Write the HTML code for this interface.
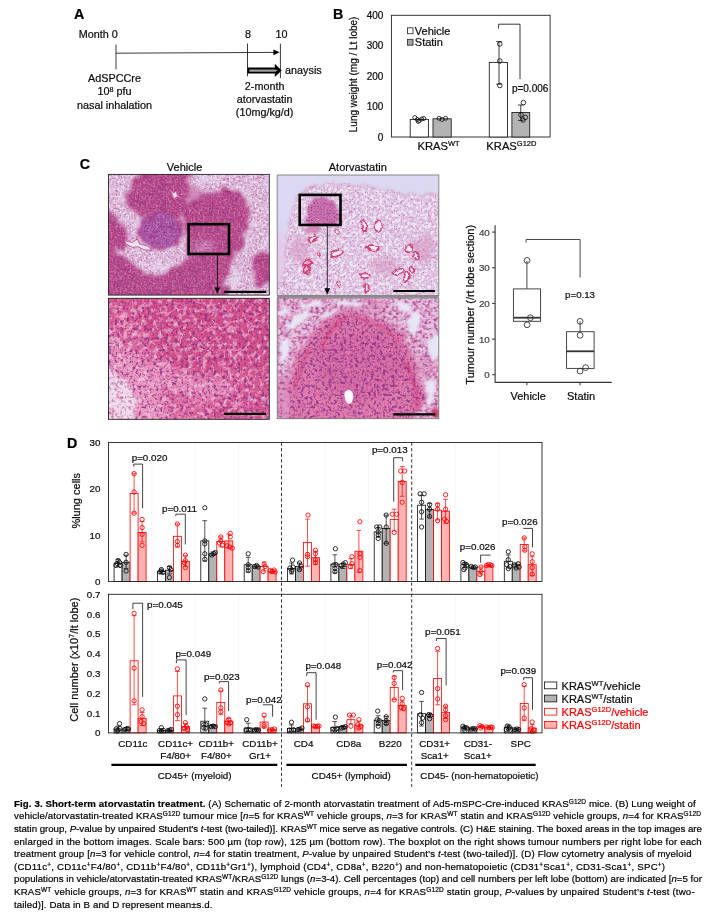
<!DOCTYPE html>
<html lang="en"><head><meta charset="utf-8"><title>Fig. 3. Short-term atorvastatin treatment</title>
<style>html,body{margin:0;padding:0;background:#fff}body{width:707px;height:917px;position:relative;overflow:hidden;font-family:"Liberation Sans",Arial,Helvetica,sans-serif}svg{position:absolute;left:0;top:0}svg text{font-family:"Liberation Sans",Arial,Helvetica,sans-serif;stroke-width:0.22px}

.cap{position:absolute;left:14px;white-space:nowrap;font-size:9.7px;line-height:12px;color:#000;height:12px;-webkit-text-stroke:0.2px #000}
.cap b{font-weight:bold;color:#000}
.cap sup{font-size:6.5px;vertical-align:baseline;position:relative;top:-3.1px;line-height:0}
.cap i{font-style:italic}

</style></head><body>
<svg width="707" height="917" viewBox="0 0 707 917">
<rect width="707" height="917" fill="#fff"/>
<g id="pA">
<text x="73.9" y="19.4" font-size="14.3" text-anchor="start" fill="#000" stroke="#000" font-weight="bold">A</text>
<text x="78.8" y="37.6" font-size="10.8" text-anchor="start" fill="#0d0d0d" stroke="#0d0d0d">Month 0</text>
<text x="248.1" y="37.6" font-size="10.8" text-anchor="middle" fill="#0d0d0d" stroke="#0d0d0d">8</text>
<text x="281.6" y="37.6" font-size="10.8" text-anchor="middle" fill="#0d0d0d" stroke="#0d0d0d">10</text>
<path d="M116 44.5V69.3 M247.5 43.6V76.2 M280.4 43.6V78.2 M116 53.2L274 52.4" stroke="#222" stroke-width="0.9" fill="none"/>
<path d="M273.4 49.6L279.6 52.3L273.4 55.2Z" fill="#000"/>
<path d="M247.5 67.5H274.8V63.7L281.7 70.4L274.8 77.1V73.6H247.5Z" fill="#000"/><path d="M249.3 69.4H275.4L277.6 70.55L275.4 71.8H249.3Z" fill="#9c9c9c"/>
<text x="285.1" y="74.0" font-size="10.8" text-anchor="start" fill="#0d0d0d" stroke="#0d0d0d">anaysis</text>
<text x="114.5" y="82.0" font-size="10.8" text-anchor="middle" fill="#0d0d0d" stroke="#0d0d0d">AdSPCCre</text>
<text x="114.5" y="95.4" font-size="10.8" text-anchor="middle" fill="#0d0d0d" stroke="#0d0d0d">10<tspan dy="-3.9" font-size="7.3">8</tspan><tspan dy="3.9" font-size="10.8">&#8203;</tspan> pfu</text>
<text x="114.5" y="108.8" font-size="10.8" text-anchor="middle" fill="#0d0d0d" stroke="#0d0d0d">nasal inhalation</text>
<text x="264.6" y="90.2" font-size="10.8" text-anchor="middle" fill="#0d0d0d" stroke="#0d0d0d">2-month</text>
<text x="264.6" y="103.1" font-size="10.8" text-anchor="middle" fill="#0d0d0d" stroke="#0d0d0d">atorvastatin</text>
<text x="264.6" y="116.0" font-size="10.8" text-anchor="middle" fill="#0d0d0d" stroke="#0d0d0d">(10mg/kg/d)</text>
</g>
<g id="pB">
<text x="333.0" y="18.9" font-size="14.3" text-anchor="start" fill="#000" stroke="#000" font-weight="bold">B</text>
<rect x="391.4" y="15.3" width="158.7" height="121.7" fill="none" stroke="#222" stroke-width="0.9"/>
<text x="383.4" y="18.9" font-size="10" text-anchor="end" fill="#0d0d0d" stroke="#0d0d0d">400</text>
<text x="383.4" y="49.3" font-size="10" text-anchor="end" fill="#0d0d0d" stroke="#0d0d0d">300</text>
<text x="383.4" y="79.8" font-size="10" text-anchor="end" fill="#0d0d0d" stroke="#0d0d0d">200</text>
<text x="383.4" y="110.2" font-size="10" text-anchor="end" fill="#0d0d0d" stroke="#0d0d0d">100</text>
<text x="383.4" y="140.6" font-size="10" text-anchor="end" fill="#0d0d0d" stroke="#0d0d0d">0</text>
<text transform="translate(357.4 74.4) rotate(-90)" font-size="10" text-anchor="middle" fill="#0d0d0d" stroke="#0d0d0d">Lung weight (mg / Lt lobe)</text>
<rect x="407.4" y="27.8" width="5.6" height="5.9" fill="#fff" stroke="#222" stroke-width="0.8"/>
<rect x="407.4" y="39.3" width="5.6" height="5.9" fill="#a6a6a6" stroke="#222" stroke-width="0.8"/>
<text x="414.8" y="34.8" font-size="11" text-anchor="start" fill="#0d0d0d" stroke="#0d0d0d">Vehicle</text>
<text x="414.8" y="46.1" font-size="11" text-anchor="start" fill="#0d0d0d" stroke="#0d0d0d">Statin</text>
<rect x="410.2" y="119.4" width="18.2" height="17.6" fill="#fff" stroke="#222" stroke-width="0.9"/>
<rect x="433.0" y="118.8" width="18.2" height="18.2" fill="#b3b3b3" stroke="#222" stroke-width="0.9"/>
<rect x="489.3" y="62.4" width="18.2" height="74.6" fill="#fff" stroke="#222" stroke-width="0.9"/>
<rect x="511.9" y="112.5" width="17.8" height="24.5" fill="#b3b3b3" stroke="#222" stroke-width="0.9"/>
<circle cx="414.8" cy="117.5" r="2.0" fill="none" stroke="#0d0d0d" stroke-width="0.8"/>
<circle cx="417.3" cy="119.5" r="2.0" fill="none" stroke="#0d0d0d" stroke-width="0.8"/>
<circle cx="419.3" cy="120.5" r="2.0" fill="none" stroke="#0d0d0d" stroke-width="0.8"/>
<circle cx="421.8" cy="119.0" r="2.0" fill="none" stroke="#0d0d0d" stroke-width="0.8"/>
<circle cx="423.8" cy="118.5" r="2.0" fill="none" stroke="#0d0d0d" stroke-width="0.8"/>
<circle cx="418.3" cy="121.5" r="2.0" fill="none" stroke="#0d0d0d" stroke-width="0.8"/>
<circle cx="439.1" cy="118.3" r="2.0" fill="none" stroke="#0d0d0d" stroke-width="0.8"/>
<circle cx="442.1" cy="119.5" r="2.0" fill="none" stroke="#0d0d0d" stroke-width="0.8"/>
<circle cx="445.6" cy="118.3" r="2.0" fill="none" stroke="#0d0d0d" stroke-width="0.8"/>
<path d="M499.0 41.6V84.2M496.2 41.6H501.8M496.2 84.2H501.8" stroke="#0d0d0d" stroke-width="0.8" fill="none"/>
<circle cx="499.8" cy="44.0" r="2.3" fill="none" stroke="#0d0d0d" stroke-width="0.8"/>
<circle cx="499.8" cy="61.0" r="2.3" fill="none" stroke="#0d0d0d" stroke-width="0.8"/>
<circle cx="499.8" cy="85.5" r="2.3" fill="none" stroke="#0d0d0d" stroke-width="0.8"/>
<path d="M520.8 105.0V120.4M518.0 105.0H523.6M518.0 120.4H523.6" stroke="#0d0d0d" stroke-width="0.8" fill="none"/>
<circle cx="523.4" cy="102.6" r="2.3" fill="none" stroke="#0d0d0d" stroke-width="0.8"/>
<circle cx="521.0" cy="114.9" r="2.3" fill="none" stroke="#0d0d0d" stroke-width="0.8"/>
<circle cx="525.3" cy="117.4" r="2.3" fill="none" stroke="#0d0d0d" stroke-width="0.8"/>
<circle cx="523.0" cy="120.0" r="2.3" fill="none" stroke="#0d0d0d" stroke-width="0.8"/>
<path d="M498.6 28.7V24.2H520V79.2" stroke="#222" stroke-width="0.9" fill="none"/>
<text x="511.9" y="91.6" font-size="10" text-anchor="start" fill="#0d0d0d" stroke="#0d0d0d">p=0.006</text>
<text x="438.6" y="150.3" font-size="11.2" text-anchor="middle" fill="#0d0d0d" stroke="#0d0d0d">KRAS<tspan dy="-4.0" font-size="7.5">WT</tspan><tspan dy="4.0" font-size="11">&#8203;</tspan></text>
<text x="511.4" y="150.3" font-size="11.2" text-anchor="middle" fill="#0d0d0d" stroke="#0d0d0d">KRAS<tspan dy="-4.0" font-size="7.5">G12D</tspan><tspan dy="4.0" font-size="11">&#8203;</tspan></text>
</g>
<defs>
<filter id="rag" color-interpolation-filters="sRGB" filterUnits="userSpaceOnUse" x="-20" y="-20" width="210" height="170"><feTurbulence type="fractalNoise" baseFrequency="0.09" numOctaves="3" seed="7" result="t"/><feDisplacementMap in="SourceGraphic" in2="t" scale="16" xChannelSelector="R" yChannelSelector="G" result="d"/><feGaussianBlur in="d" stdDeviation="1.7"/></filter>
<filter id="rag2" color-interpolation-filters="sRGB" filterUnits="userSpaceOnUse" x="-20" y="-20" width="210" height="170"><feTurbulence type="fractalNoise" baseFrequency="0.12" numOctaves="3" seed="21" result="t"/><feDisplacementMap in="SourceGraphic" in2="t" scale="10" xChannelSelector="R" yChannelSelector="G" result="d"/><feGaussianBlur in="d" stdDeviation="1.1"/></filter>
<filter id="rag3" color-interpolation-filters="sRGB" filterUnits="userSpaceOnUse" x="-20" y="-20" width="210" height="170"><feTurbulence type="fractalNoise" baseFrequency="0.22" numOctaves="2" seed="5" result="t"/><feDisplacementMap in="SourceGraphic" in2="t" scale="4.5" xChannelSelector="R" yChannelSelector="G" result="d"/><feGaussianBlur in="d" stdDeviation="0.45"/></filter>
<filter id="bl1" color-interpolation-filters="sRGB" filterUnits="userSpaceOnUse" x="-20" y="-20" width="210" height="170"><feGaussianBlur stdDeviation="0.55"/></filter>
<filter id="bl2" color-interpolation-filters="sRGB" filterUnits="userSpaceOnUse" x="-20" y="-20" width="210" height="170"><feGaussianBlur stdDeviation="1.4"/></filter>
<filter id="bl3" color-interpolation-filters="sRGB" filterUnits="userSpaceOnUse" x="-20" y="-20" width="210" height="170"><feGaussianBlur stdDeviation="3"/></filter>
<filter id="spW1" color-interpolation-filters="sRGB" filterUnits="userSpaceOnUse" x="0" y="0" width="170" height="130"><feTurbulence type="fractalNoise" baseFrequency="0.42" numOctaves="2" seed="3"/><feColorMatrix type="matrix" values="0 0 0 0 0.925 0 0 0 0 0.894 0 0 0 0 0.957 5.5 0 0 0 -2.75"/><feGaussianBlur stdDeviation="0.35"/></filter>
<filter id="spD1" color-interpolation-filters="sRGB" filterUnits="userSpaceOnUse" x="0" y="0" width="170" height="130"><feTurbulence type="fractalNoise" baseFrequency="0.7" numOctaves="1" seed="11"/><feColorMatrix type="matrix" values="0 0 0 0 0.549 0 0 0 0 0.165 0 0 0 0 0.471 4.0 0 0 0 -2.05"/><feGaussianBlur stdDeviation="0.3"/></filter>
<filter id="spP1" color-interpolation-filters="sRGB" filterUnits="userSpaceOnUse" x="0" y="0" width="170" height="130"><feTurbulence type="fractalNoise" baseFrequency="0.5" numOctaves="2" seed="5"/><feColorMatrix type="matrix" values="0 0 0 0 0.769 0 0 0 0 0.376 0 0 0 0 0.667 4.0 0 0 0 -2.0"/><feGaussianBlur stdDeviation="0.4"/></filter>
<filter id="spH1" color-interpolation-filters="sRGB" filterUnits="userSpaceOnUse" x="0" y="0" width="170" height="130"><feTurbulence type="fractalNoise" baseFrequency="0.6" numOctaves="1" seed="41"/><feColorMatrix type="matrix" values="0 0 0 0 0.839 0 0 0 0 0.510 0 0 0 0 0.745 4.0 0 0 0 -2.1"/><feGaussianBlur stdDeviation="0.35"/></filter>
<filter id="spG1" color-interpolation-filters="sRGB" filterUnits="userSpaceOnUse" x="0" y="0" width="170" height="130"><feTurbulence type="fractalNoise" baseFrequency="0.12" numOctaves="2" seed="33"/><feColorMatrix type="matrix" values="0 0 0 0 0.588 0 0 0 0 0.196 0 0 0 0 0.490 5.0 0 0 0 -2.6"/><feGaussianBlur stdDeviation="1.2"/></filter>
<filter id="spC1" color-interpolation-filters="sRGB" filterUnits="userSpaceOnUse" x="0" y="0" width="170" height="130"><feTurbulence type="fractalNoise" baseFrequency="0.09" numOctaves="2" seed="51"/><feColorMatrix type="matrix" values="0 0 0 0 0.910 0 0 0 0 0.871 0 0 0 0 0.949 6.0 0 0 0 -3.2"/><feGaussianBlur stdDeviation="1.0"/></filter>
<filter id="spW3" color-interpolation-filters="sRGB" filterUnits="userSpaceOnUse" x="0" y="0" width="170" height="130"><feTurbulence type="fractalNoise" baseFrequency="0.33" numOctaves="1" seed="71"/><feColorMatrix type="matrix" values="0 0 0 0 0.941 0 0 0 0 0.918 0 0 0 0 0.969 7.0 0 0 0 -3.35"/><feGaussianBlur stdDeviation="0.3"/></filter>
<filter id="spN1" color-interpolation-filters="sRGB" filterUnits="userSpaceOnUse" x="0" y="0" width="170" height="130"><feTurbulence type="turbulence" baseFrequency="0.22" numOctaves="2" seed="8"/><feColorMatrix type="matrix" values="0 0 0 0 0.769 0 0 0 0 0.439 0 0 0 0 0.698 -7 0 0 0 1.0"/><feGaussianBlur stdDeviation="0.3"/></filter>
<filter id="spW2" color-interpolation-filters="sRGB" filterUnits="userSpaceOnUse" x="0" y="0" width="170" height="130"><feTurbulence type="fractalNoise" baseFrequency="0.2" numOctaves="2" seed="9"/><feColorMatrix type="matrix" values="0 0 0 0 0.973 0 0 0 0 0.910 0 0 0 0 0.965 6.0 0 0 0 -3.1"/><feGaussianBlur stdDeviation="0.5"/></filter>
<filter id="spD2" color-interpolation-filters="sRGB" filterUnits="userSpaceOnUse" x="0" y="0" width="170" height="130"><feTurbulence type="fractalNoise" baseFrequency="0.33" numOctaves="2" seed="17"/><feColorMatrix type="matrix" values="0 0 0 0 0.541 0 0 0 0 0.188 0 0 0 0 0.518 6.0 0 0 0 -3.2"/><feGaussianBlur stdDeviation="0.4"/></filter>
<filter id="spP2" color-interpolation-filters="sRGB" filterUnits="userSpaceOnUse" x="0" y="0" width="170" height="130"><feTurbulence type="fractalNoise" baseFrequency="0.16" numOctaves="2" seed="29"/><feColorMatrix type="matrix" values="0 0 0 0 0.925 0 0 0 0 0.471 0 0 0 0 0.686 5.0 0 0 0 -2.5"/><feGaussianBlur stdDeviation="0.6"/></filter>
<filter id="spL2" color-interpolation-filters="sRGB" filterUnits="userSpaceOnUse" x="0" y="0" width="170" height="130"><feTurbulence type="fractalNoise" baseFrequency="0.3" numOctaves="2" seed="13"/><feColorMatrix type="matrix" values="0 0 0 0 0.839 0 0 0 0 0.439 0 0 0 0 0.667 4.5 0 0 0 -2.2"/><feGaussianBlur stdDeviation="0.5"/></filter>
<filter id="spD3" color-interpolation-filters="sRGB" filterUnits="userSpaceOnUse" x="0" y="0" width="170" height="130"><feTurbulence type="fractalNoise" baseFrequency="0.6" numOctaves="1" seed="23"/><feColorMatrix type="matrix" values="0 0 0 0 0.549 0 0 0 0 0.204 0 0 0 0 0.541 5.0 0 0 0 -2.75"/><feGaussianBlur stdDeviation="0.3"/></filter>
<filter id="spK2" color-interpolation-filters="sRGB" filterUnits="userSpaceOnUse" x="0" y="0" width="170" height="130"><feTurbulence type="turbulence" baseFrequency="0.085" numOctaves="2" seed="61"/><feColorMatrix type="matrix" values="0 0 0 0 0.965 0 0 0 0 0.706 0 0 0 0 0.831 -9 0 0 0 1.0"/><feGaussianBlur stdDeviation="0.35"/></filter>
<filter id="spD4" color-interpolation-filters="sRGB" filterUnits="userSpaceOnUse" x="0" y="0" width="170" height="130"><feTurbulence type="fractalNoise" baseFrequency="0.38" numOctaves="2" seed="83"/><feColorMatrix type="matrix" values="0 0 0 0 0.518 0 0 0 0 0.196 0 0 0 0 0.541 6.0 0 0 0 -3.3"/><feGaussianBlur stdDeviation="0.4"/></filter>
<filter id="spN2" color-interpolation-filters="sRGB" filterUnits="userSpaceOnUse" x="0" y="0" width="170" height="130"><feTurbulence type="turbulence" baseFrequency="0.1" numOctaves="2" seed="19"/><feColorMatrix type="matrix" values="0 0 0 0 0.839 0 0 0 0 0.392 0 0 0 0 0.627 -6 0 0 0 1.0"/><feGaussianBlur stdDeviation="0.4"/></filter>
</defs>
<g id="pC">
<text x="79.8" y="169.3" font-size="14.3" text-anchor="start" fill="#000" stroke="#000" font-weight="bold">C</text>
<text x="184.6" y="171.3" font-size="11" text-anchor="middle" fill="#0d0d0d" stroke="#0d0d0d">Vehicle</text>
<text x="357.8" y="171.0" font-size="11" text-anchor="middle" fill="#0d0d0d" stroke="#0d0d0d">Atorvastatin</text>
<svg x="108.5" y="174.4" width="160.8" height="120.7" viewBox="0 0 162 122" preserveAspectRatio="none">
<rect width="162" height="122" fill="#dab6d6"/>
<mask id="m1l"><rect width="162" height="122" fill="#fff"/><g filter="url(#rag)" fill="#000"><path d="M40.1 -6.9C48.9 -9.7 72.4 -10.3 79.1 -6.9C85.7 -3.4 80.3 7.3 80.2 13.7C80.1 20.2 80.3 27.3 78.4 32.1C76.5 36.9 73.0 41.4 68.7 42.4C64.5 43.3 58.4 37.9 52.7 37.8C47.0 37.7 39.5 42.5 34.4 41.7C29.2 40.9 24.4 36.5 21.8 33.2C19.2 29.9 18.0 25.6 18.8 21.8C19.6 17.9 22.8 15.1 26.4 10.3C29.9 5.5 31.3 -4.0 40.1 -6.9Z"/><path d="M77.9 32.1C80.3 26.4 86.7 25.3 91.7 22.9C96.6 20.5 101.4 18.6 107.7 17.9C114.0 17.2 124.4 17.1 129.5 18.8C134.6 20.5 136.6 23.4 138.4 28.0C140.2 32.5 140.5 39.6 140.2 45.8C139.9 52.1 138.4 59.8 136.6 65.3C134.8 70.8 131.8 74.5 129.5 79.1C127.1 83.6 124.7 88.0 122.6 92.8C120.5 97.6 118.4 101.4 116.9 107.7C115.3 114.0 126.6 126.8 113.4 130.6C100.3 134.4 49.1 134.4 37.8 130.6C26.5 126.8 42.1 112.7 45.8 107.7C49.5 102.7 55.8 103.5 60.0 100.8C64.3 98.2 68.1 94.9 71.5 91.7C74.9 88.4 79.2 87.1 80.2 81.3C81.2 75.6 77.8 65.5 77.5 57.3C77.1 49.1 75.5 37.8 77.9 32.1Z"/><path d="M-6.9 76.8C-4.2 68.4 4.2 77.9 9.2 80.2C14.1 82.5 18.3 87.1 22.9 90.5C27.5 94.0 32.3 98.0 36.7 100.8C41.1 103.7 47.5 102.7 49.3 107.7C51.0 112.7 56.3 126.8 47.0 130.6C37.6 134.4 2.1 139.6 -6.9 130.6C-15.8 121.6 -9.5 85.2 -6.9 76.8Z"/><path d="M-6.9 42.4C-4.0 36.9 6.3 43.3 10.3 45.8C14.4 48.3 16.5 53.5 17.4 57.3C18.4 61.1 17.8 65.5 16.0 68.7C14.3 72.0 10.7 75.0 6.9 76.8C3.1 78.5 -4.6 84.8 -6.9 79.1C-9.2 73.3 -9.7 47.9 -6.9 42.4Z"/><ellipse cx="156.3" cy="95.1" rx="11.0" ry="15.6"/><ellipse cx="52.2" cy="56.8" rx="21.1" ry="18.3"/></g></mask>
<mask id="m1d"><rect width="162" height="122" fill="#000"/><g filter="url(#rag)" fill="#fff"><path d="M40.1 -6.9C48.9 -9.7 72.4 -10.3 79.1 -6.9C85.7 -3.4 80.3 7.3 80.2 13.7C80.1 20.2 80.3 27.3 78.4 32.1C76.5 36.9 73.0 41.4 68.7 42.4C64.5 43.3 58.4 37.9 52.7 37.8C47.0 37.7 39.5 42.5 34.4 41.7C29.2 40.9 24.4 36.5 21.8 33.2C19.2 29.9 18.0 25.6 18.8 21.8C19.6 17.9 22.8 15.1 26.4 10.3C29.9 5.5 31.3 -4.0 40.1 -6.9Z"/><path d="M77.9 32.1C80.3 26.4 86.7 25.3 91.7 22.9C96.6 20.5 101.4 18.6 107.7 17.9C114.0 17.2 124.4 17.1 129.5 18.8C134.6 20.5 136.6 23.4 138.4 28.0C140.2 32.5 140.5 39.6 140.2 45.8C139.9 52.1 138.4 59.8 136.6 65.3C134.8 70.8 131.8 74.5 129.5 79.1C127.1 83.6 124.7 88.0 122.6 92.8C120.5 97.6 118.4 101.4 116.9 107.7C115.3 114.0 126.6 126.8 113.4 130.6C100.3 134.4 49.1 134.4 37.8 130.6C26.5 126.8 42.1 112.7 45.8 107.7C49.5 102.7 55.8 103.5 60.0 100.8C64.3 98.2 68.1 94.9 71.5 91.7C74.9 88.4 79.2 87.1 80.2 81.3C81.2 75.6 77.8 65.5 77.5 57.3C77.1 49.1 75.5 37.8 77.9 32.1Z"/><path d="M-6.9 76.8C-4.2 68.4 4.2 77.9 9.2 80.2C14.1 82.5 18.3 87.1 22.9 90.5C27.5 94.0 32.3 98.0 36.7 100.8C41.1 103.7 47.5 102.7 49.3 107.7C51.0 112.7 56.3 126.8 47.0 130.6C37.6 134.4 2.1 139.6 -6.9 130.6C-15.8 121.6 -9.5 85.2 -6.9 76.8Z"/><path d="M-6.9 42.4C-4.0 36.9 6.3 43.3 10.3 45.8C14.4 48.3 16.5 53.5 17.4 57.3C18.4 61.1 17.8 65.5 16.0 68.7C14.3 72.0 10.7 75.0 6.9 76.8C3.1 78.5 -4.6 84.8 -6.9 79.1C-9.2 73.3 -9.7 47.9 -6.9 42.4Z"/><ellipse cx="156.3" cy="95.1" rx="11.0" ry="15.6"/><ellipse cx="52.2" cy="56.8" rx="21.1" ry="18.3"/></g></mask>
<g mask="url(#m1l)">
<rect width="162" height="122" filter="url(#spP1)" opacity="0.85"/>
<rect width="162" height="122" filter="url(#spW1)" opacity="0.95"/>
<rect width="162" height="122" filter="url(#spC1)" opacity="0.6"/>
</g>
<g filter="url(#bl3)" fill="#c874a8" opacity="0.75"><path d="M40.1 -6.9C48.9 -9.7 72.4 -10.3 79.1 -6.9C85.7 -3.4 80.3 7.3 80.2 13.7C80.1 20.2 80.3 27.3 78.4 32.1C76.5 36.9 73.0 41.4 68.7 42.4C64.5 43.3 58.4 37.9 52.7 37.8C47.0 37.7 39.5 42.5 34.4 41.7C29.2 40.9 24.4 36.5 21.8 33.2C19.2 29.9 18.0 25.6 18.8 21.8C19.6 17.9 22.8 15.1 26.4 10.3C29.9 5.5 31.3 -4.0 40.1 -6.9Z"/><path d="M77.9 32.1C80.3 26.4 86.7 25.3 91.7 22.9C96.6 20.5 101.4 18.6 107.7 17.9C114.0 17.2 124.4 17.1 129.5 18.8C134.6 20.5 136.6 23.4 138.4 28.0C140.2 32.5 140.5 39.6 140.2 45.8C139.9 52.1 138.4 59.8 136.6 65.3C134.8 70.8 131.8 74.5 129.5 79.1C127.1 83.6 124.7 88.0 122.6 92.8C120.5 97.6 118.4 101.4 116.9 107.7C115.3 114.0 126.6 126.8 113.4 130.6C100.3 134.4 49.1 134.4 37.8 130.6C26.5 126.8 42.1 112.7 45.8 107.7C49.5 102.7 55.8 103.5 60.0 100.8C64.3 98.2 68.1 94.9 71.5 91.7C74.9 88.4 79.2 87.1 80.2 81.3C81.2 75.6 77.8 65.5 77.5 57.3C77.1 49.1 75.5 37.8 77.9 32.1Z"/><path d="M-6.9 76.8C-4.2 68.4 4.2 77.9 9.2 80.2C14.1 82.5 18.3 87.1 22.9 90.5C27.5 94.0 32.3 98.0 36.7 100.8C41.1 103.7 47.5 102.7 49.3 107.7C51.0 112.7 56.3 126.8 47.0 130.6C37.6 134.4 2.1 139.6 -6.9 130.6C-15.8 121.6 -9.5 85.2 -6.9 76.8Z"/><path d="M-6.9 42.4C-4.0 36.9 6.3 43.3 10.3 45.8C14.4 48.3 16.5 53.5 17.4 57.3C18.4 61.1 17.8 65.5 16.0 68.7C14.3 72.0 10.7 75.0 6.9 76.8C3.1 78.5 -4.6 84.8 -6.9 79.1C-9.2 73.3 -9.7 47.9 -6.9 42.4Z"/><ellipse cx="156.3" cy="95.1" rx="11.0" ry="15.6"/><ellipse cx="52.2" cy="56.8" rx="21.1" ry="18.3"/><ellipse cx="82.5" cy="21.8" rx="12.6" ry="10.3"/></g>
<g filter="url(#rag)" fill="#b84787"><path d="M40.1 -6.9C48.9 -9.7 72.4 -10.3 79.1 -6.9C85.7 -3.4 80.3 7.3 80.2 13.7C80.1 20.2 80.3 27.3 78.4 32.1C76.5 36.9 73.0 41.4 68.7 42.4C64.5 43.3 58.4 37.9 52.7 37.8C47.0 37.7 39.5 42.5 34.4 41.7C29.2 40.9 24.4 36.5 21.8 33.2C19.2 29.9 18.0 25.6 18.8 21.8C19.6 17.9 22.8 15.1 26.4 10.3C29.9 5.5 31.3 -4.0 40.1 -6.9Z"/><path d="M77.9 32.1C80.3 26.4 86.7 25.3 91.7 22.9C96.6 20.5 101.4 18.6 107.7 17.9C114.0 17.2 124.4 17.1 129.5 18.8C134.6 20.5 136.6 23.4 138.4 28.0C140.2 32.5 140.5 39.6 140.2 45.8C139.9 52.1 138.4 59.8 136.6 65.3C134.8 70.8 131.8 74.5 129.5 79.1C127.1 83.6 124.7 88.0 122.6 92.8C120.5 97.6 118.4 101.4 116.9 107.7C115.3 114.0 126.6 126.8 113.4 130.6C100.3 134.4 49.1 134.4 37.8 130.6C26.5 126.8 42.1 112.7 45.8 107.7C49.5 102.7 55.8 103.5 60.0 100.8C64.3 98.2 68.1 94.9 71.5 91.7C74.9 88.4 79.2 87.1 80.2 81.3C81.2 75.6 77.8 65.5 77.5 57.3C77.1 49.1 75.5 37.8 77.9 32.1Z"/><path d="M-6.9 76.8C-4.2 68.4 4.2 77.9 9.2 80.2C14.1 82.5 18.3 87.1 22.9 90.5C27.5 94.0 32.3 98.0 36.7 100.8C41.1 103.7 47.5 102.7 49.3 107.7C51.0 112.7 56.3 126.8 47.0 130.6C37.6 134.4 2.1 139.6 -6.9 130.6C-15.8 121.6 -9.5 85.2 -6.9 76.8Z"/><path d="M-6.9 42.4C-4.0 36.9 6.3 43.3 10.3 45.8C14.4 48.3 16.5 53.5 17.4 57.3C18.4 61.1 17.8 65.5 16.0 68.7C14.3 72.0 10.7 75.0 6.9 76.8C3.1 78.5 -4.6 84.8 -6.9 79.1C-9.2 73.3 -9.7 47.9 -6.9 42.4Z"/><ellipse cx="156.3" cy="95.1" rx="11.0" ry="15.6"/><ellipse cx="52.2" cy="56.8" rx="21.1" ry="18.3"/></g>
<g filter="url(#rag2)"><ellipse cx="52.2" cy="56.8" rx="20.6" ry="17.9" fill="#a653a4"/></g>
<g filter="url(#bl3)"><ellipse cx="94.0" cy="72.9" rx="13.3" ry="6.0" fill="#d597c4" opacity="0.8"/></g>
<g mask="url(#m1d)">
<rect width="162" height="122" filter="url(#spH1)" opacity="0.7"/>
<rect width="162" height="122" filter="url(#spD1)" opacity="0.75"/>
<rect width="162" height="122" filter="url(#spG1)" opacity="0.5"/>
<rect width="162" height="122" filter="url(#spW1)" opacity="0.22"/>
</g>
<g filter="url(#bl1)" fill="#ece2f2" stroke="#bf4a82" stroke-width="0.9">
<path d="M16.0 66.9l8 2l5 -3.6l2.4 5l8 2l4.4 4.6l-8.4 -0.8l-6 -3.2l-5 1l-7 -3.6z"/>
<path d="M62.3 16.5l3.4 2.4l2.6 -1.8l0.8 3.6l3.2 2.6l-4.2 -0.8l-1.6 2.6l-1.8 -3.8z" stroke-width="0.8" stroke="#c9609c"/>
</g>
</svg>
<svg x="277.2" y="175.0" width="161.6" height="120.5" viewBox="0 0 162 122" preserveAspectRatio="none">
<rect width="162" height="122" fill="#dcd8f1"/>
<g filter="url(#bl3)"><ellipse cx="0" cy="100" rx="9" ry="45" fill="#e6c6ea" opacity="0.9"/></g>
<mask id="m2l"><rect width="162" height="122" fill="#000"/><g filter="url(#rag2)"><path d="M4.1 128.3C-23.2 124.1 4.9 111.1 5.5 103.1C6.1 95.1 7.0 87.8 7.8 80.2C8.6 72.6 9.3 64.5 10.3 57.3C11.3 50.1 12.0 42.9 13.7 37.1C15.5 31.3 17.6 26.7 21.1 22.5C24.5 18.3 28.3 14.1 34.4 11.9C40.4 9.7 47.7 9.2 57.3 9.2C66.8 9.2 81.3 10.6 91.7 11.9C102.0 13.2 110.7 15.4 119.2 17.0C127.6 18.6 133.7 20.1 142.1 21.5C150.5 23.0 165.0 7.9 169.6 25.7C174.1 43.5 197.1 111.2 169.6 128.3C142.0 145.4 31.5 132.5 4.1 128.3Z" fill="#fff"/></g></mask>
<g filter="url(#rag2)"><path d="M4.1 128.3C-23.2 124.1 4.9 111.1 5.5 103.1C6.1 95.1 7.0 87.8 7.8 80.2C8.6 72.6 9.3 64.5 10.3 57.3C11.3 50.1 12.0 42.9 13.7 37.1C15.5 31.3 17.6 26.7 21.1 22.5C24.5 18.3 28.3 14.1 34.4 11.9C40.4 9.7 47.7 9.2 57.3 9.2C66.8 9.2 81.3 10.6 91.7 11.9C102.0 13.2 110.7 15.4 119.2 17.0C127.6 18.6 133.7 20.1 142.1 21.5C150.5 23.0 165.0 7.9 169.6 25.7C174.1 43.5 197.1 111.2 169.6 128.3C142.0 145.4 31.5 132.5 4.1 128.3Z" fill="#e2cce6"/></g>
<g mask="url(#m2l)">
<rect width="162" height="122" filter="url(#spN1)" opacity="0.8"/>
<rect width="162" height="122" filter="url(#spP1)" opacity="0.3"/>
<rect width="162" height="122" filter="url(#spW3)" opacity="0.95"/>
<g filter="url(#rag2)"><path d="M4.1 128.3C-23.2 124.1 4.9 111.1 5.5 103.1C6.1 95.1 7.0 87.8 7.8 80.2C8.6 72.6 9.3 64.5 10.3 57.3C11.3 50.1 12.0 42.9 13.7 37.1C15.5 31.3 17.6 26.7 21.1 22.5C24.5 18.3 28.3 14.1 34.4 11.9C40.4 9.7 47.7 9.2 57.3 9.2C66.8 9.2 81.3 10.6 91.7 11.9C102.0 13.2 110.7 15.4 119.2 17.0C127.6 18.6 133.7 20.1 142.1 21.5C150.5 23.0 165.0 7.9 169.6 25.7C174.1 43.5 197.1 111.2 169.6 128.3C142.0 145.4 31.5 132.5 4.1 128.3Z" fill="none" stroke="#cf8fbd" stroke-width="1.6" opacity="0.7"/></g>
<g filter="url(#rag2)"><path d="M27.0 44.9C27.7 41.7 29.3 33.9 31.6 30.2C34.0 26.6 37.5 24.0 41.2 22.9C45.0 21.8 50.9 21.9 54.1 23.8C57.2 25.7 58.7 30.2 60.0 34.4C61.3 38.6 64.6 46.3 61.9 49.0C59.1 51.8 49.3 50.8 43.5 50.9C37.8 50.9 30.2 50.5 27.5 49.5C24.7 48.5 26.4 48.1 27.0 44.9Z" fill="#c873ad"/><ellipse cx="36.7" cy="55.0" rx="8.2" ry="5.0" fill="#d48fbd"/></g>
<g filter="url(#bl3)" fill="#d590bd" opacity="0.5"><ellipse cx="146.6" cy="75.6" rx="12" ry="14"/><ellipse cx="107.7" cy="91.7" rx="14" ry="9"/><ellipse cx="22.9" cy="75.6" rx="10" ry="14"/></g>
<rect width="162" height="122" filter="url(#spD1)" opacity="0.2"/>
<mask id="m2t"><rect width="162" height="122" fill="#000"/><g filter="url(#rag2)"><path d="M27.0 44.9C27.7 41.7 29.3 33.9 31.6 30.2C34.0 26.6 37.5 24.0 41.2 22.9C45.0 21.8 50.9 21.9 54.1 23.8C57.2 25.7 58.7 30.2 60.0 34.4C61.3 38.6 64.6 46.3 61.9 49.0C59.1 51.8 49.3 50.8 43.5 50.9C37.8 50.9 30.2 50.5 27.5 49.5C24.7 48.5 26.4 48.1 27.0 44.9Z" fill="#fff"/></g></mask>
<g mask="url(#m2t)"><rect width="162" height="122" filter="url(#spD1)" opacity="0.7"/><rect width="162" height="122" filter="url(#spH1)" opacity="0.6"/></g>
<g filter="url(#rag3)" fill="#f1ebf8" stroke="#cf3f78" stroke-width="1.7" stroke-linejoin="round">
<ellipse cx="35.5" cy="64.8" rx="4.4" ry="2.5" transform="rotate(-20 35.5 64.8)"/>
<ellipse cx="87.1" cy="51.6" rx="2.3" ry="6.0" transform="rotate(-8 87.1 51.6)"/>
<ellipse cx="101.3" cy="51.8" rx="3.7" ry="5.5" transform="rotate(18 101.3 51.8)"/>
<ellipse cx="60.0" cy="79.1" rx="6.2" ry="3.0" transform="rotate(-22 60.0 79.1)"/>
<ellipse cx="96.2" cy="73.8" rx="6.6" ry="2.7" transform="rotate(6 96.2 73.8)"/>
<ellipse cx="132.4" cy="74.5" rx="3.4" ry="3.9" transform="rotate(0 132.4 74.5)"/>
<ellipse cx="139.3" cy="81.6" rx="2.3" ry="4.1" transform="rotate(-25 139.3 81.6)"/>
<ellipse cx="30.2" cy="88.9" rx="4.6" ry="2.7" transform="rotate(-25 30.2 88.9)" stroke-width="1.9" fill="#e9b9d6"/>
<ellipse cx="29.3" cy="96.2" rx="2.7" ry="3.7" transform="rotate(20 29.3 96.2)" stroke-width="1.9" fill="#e9b9d6"/>
<ellipse cx="88.2" cy="102.0" rx="4.6" ry="2.3" transform="rotate(0 88.2 102.0)"/>
<ellipse cx="89.8" cy="114.6" rx="1.8" ry="3.9" transform="rotate(0 89.8 114.6)"/>
<ellipse cx="121.0" cy="98.1" rx="6.0" ry="2.1" transform="rotate(-22 121.0 98.1)"/>
<ellipse cx="129.7" cy="103.6" rx="2.1" ry="5.5" transform="rotate(8 129.7 103.6)"/>
<ellipse cx="135.2" cy="96.2" rx="1.8" ry="2.7" transform="rotate(-30 135.2 96.2)"/>
<ellipse cx="60.0" cy="57.3" rx="2.1" ry="2.5" transform="rotate(0 60.0 57.3)" stroke-width="1.0"/>
<ellipse cx="41.7" cy="80.2" rx="1.8" ry="1.4" transform="rotate(30 41.7 80.2)" stroke-width="1.0"/>
<ellipse cx="61.9" cy="110.4" rx="1.4" ry="2.7" transform="rotate(0 61.9 110.4)" stroke-width="1.0"/>
<ellipse cx="41.2" cy="44.9" rx="1.1" ry="1.1" transform="rotate(0 41.2 44.9)" stroke-width="0.6"/>
</g>
</g>
</svg>
<svg x="108.5" y="298.3" width="160.8" height="121.0" viewBox="0 0 162 122" preserveAspectRatio="none">
<rect width="162" height="122" fill="#e26b9f"/>
<mask id="m3l"><rect width="162" height="122" fill="#000"/><g filter="url(#rag)"><path d="M-9.2 73.3C-6.7 64.0 1.7 75.2 5.7 76.8C9.7 78.3 12.0 79.6 14.9 82.5C17.8 85.4 20.8 89.7 22.9 93.9C25.0 98.1 27.1 101.2 27.5 107.7C27.9 114.2 31.3 128.7 25.2 132.9C19.1 137.1 -3.4 142.8 -9.2 132.9C-14.9 123.0 -11.6 82.7 -9.2 73.3Z" fill="#fff"/></g></mask>
<g filter="url(#bl3)" fill="#d24a84" opacity="0.8"><path d="M32.1 -6.9C54.6 -12.6 146.6 -19.5 169.6 -6.9C192.5 5.7 174.5 54.8 169.6 68.7C164.6 82.7 148.2 76.8 139.8 76.8C131.4 76.8 126.0 68.7 119.2 68.7C112.3 68.7 106.9 76.8 98.5 76.8C90.1 76.8 77.5 72.8 68.7 68.7C60.0 64.7 51.6 59.6 45.8 52.7C40.1 45.8 36.7 37.4 34.4 27.5C32.1 17.6 9.5 -1.1 32.1 -6.9Z"/><path d="M123.7 82.5C134.0 77.1 161.9 67.6 169.6 75.6C177.2 83.6 179.5 121.4 169.6 130.6C159.6 139.8 120.3 134.4 110.0 130.6C99.7 126.8 105.4 115.7 107.7 107.7C110.0 99.7 113.4 87.8 123.7 82.5Z" opacity="0.7"/><path d="M-6.9 -6.9C-1.1 -18.3 22.1 -13.7 27.5 -6.9C32.8 0.0 28.3 23.3 25.2 34.4C22.1 45.4 14.5 55.0 9.2 59.6C3.8 64.2 -4.2 72.9 -6.9 61.9C-9.5 50.8 -12.6 4.6 -6.9 -6.9Z" opacity="0.5"/></g>
<g filter="url(#bl3)" fill="#ee9cc6" opacity="0.7"><ellipse cx="89.4" cy="88.2" rx="39.0" ry="9.6" transform="rotate(8 89.4 88.2)"/><ellipse cx="45.8" cy="75.6" rx="20.6" ry="13.7"/></g>
<g filter="url(#bl3)"><path d="M-9.2 34.4C-5.3 19.9 6.5 40.1 13.7 45.8C21.0 51.6 27.9 60.3 34.4 68.7C40.9 77.1 48.5 85.5 52.7 96.2C56.9 106.9 69.9 126.8 59.6 132.9C49.3 139.0 2.3 149.3 -9.2 132.9C-20.6 116.5 -13.0 48.9 -9.2 34.4Z" fill="#f0a9cd" opacity="0.7"/></g>
<rect width="162" height="122" filter="url(#spP2)" opacity="0.25"/>
<rect width="162" height="122" filter="url(#spD2)" opacity="0.85"/>
<rect width="162" height="122" filter="url(#spD3)" opacity="0.55"/>
<rect width="162" height="122" filter="url(#spK2)" opacity="0.85"/>
<g filter="url(#rag)"><path d="M-9.2 73.3C-6.7 64.0 1.7 75.2 5.7 76.8C9.7 78.3 12.0 79.6 14.9 82.5C17.8 85.4 20.8 89.7 22.9 93.9C25.0 98.1 27.1 101.2 27.5 107.7C27.9 114.2 31.3 128.7 25.2 132.9C19.1 137.1 -3.4 142.8 -9.2 132.9C-14.9 123.0 -11.6 82.7 -9.2 73.3Z" fill="#f1e2f0" opacity="0.9"/></g>
<g mask="url(#m3l)"><rect width="162" height="122" filter="url(#spN2)" opacity="0.9"/><rect width="162" height="122" filter="url(#spD2)" opacity="0.35"/></g>
<rect width="162" height="122" filter="url(#spW2)" opacity="0.45"/>
</svg>
<svg x="277.2" y="297.9" width="161.6" height="120.8" viewBox="0 0 162 122" preserveAspectRatio="none">
<rect width="162" height="122" fill="#e6c6e0"/>
<mask id="m4t"><rect width="162" height="122" fill="#000"/><g filter="url(#rag)"><path d="M57.3 16.5C62.2 14.2 69.1 10.8 75.6 11.5C82.1 12.1 89.0 17.2 96.2 20.6C103.5 24.1 112.9 26.7 119.2 32.1C125.5 37.4 130.1 45.4 134.0 52.7C137.9 60.0 140.4 68.0 142.5 75.6C144.6 83.3 147.3 91.8 146.6 98.5C146.0 105.2 143.2 110.4 138.6 115.7C134.0 121.1 138.8 128.1 119.2 130.6C99.5 133.1 38.4 135.2 20.6 130.6C2.9 126.0 14.1 111.5 12.6 103.1C11.1 94.7 10.1 87.8 11.5 80.2C12.8 72.6 16.8 64.2 20.6 57.3C24.4 50.4 30.2 44.3 34.4 39.0C38.6 33.6 42.0 28.9 45.8 25.2C49.6 21.5 52.3 18.8 57.3 16.5Z" fill="#fff"/></g></mask>
<mask id="m4o"><rect width="162" height="122" fill="#fff"/><g filter="url(#rag)"><path d="M57.3 16.5C62.2 14.2 69.1 10.8 75.6 11.5C82.1 12.1 89.0 17.2 96.2 20.6C103.5 24.1 112.9 26.7 119.2 32.1C125.5 37.4 130.1 45.4 134.0 52.7C137.9 60.0 140.4 68.0 142.5 75.6C144.6 83.3 147.3 91.8 146.6 98.5C146.0 105.2 143.2 110.4 138.6 115.7C134.0 121.1 138.8 128.1 119.2 130.6C99.5 133.1 38.4 135.2 20.6 130.6C2.9 126.0 14.1 111.5 12.6 103.1C11.1 94.7 10.1 87.8 11.5 80.2C12.8 72.6 16.8 64.2 20.6 57.3C24.4 50.4 30.2 44.3 34.4 39.0C38.6 33.6 42.0 28.9 45.8 25.2C49.6 21.5 52.3 18.8 57.3 16.5Z" fill="#000"/></g></mask>
<g mask="url(#m4o)">
<rect width="162" height="122" filter="url(#spN2)" opacity="0.95"/>
<rect width="162" height="122" filter="url(#spL2)" opacity="0.8"/>
<g filter="url(#bl3)" fill="#dc8cbc"><ellipse cx="9.2" cy="103.1" rx="18.3" ry="25.2" opacity="0.8"/><ellipse cx="91.7" cy="9.2" rx="20.6" ry="9.2" opacity="0.5"/><ellipse cx="148.9" cy="68.7" rx="9.2" ry="13.7" opacity="0.45"/></g>
<rect width="162" height="122" filter="url(#spD2)" opacity="0.65"/>
<g filter="url(#rag2)" fill="#e8e5f5">
<ellipse cx="21.8" cy="21.8" rx="14.2" ry="4.1" transform="rotate(-38 21.8 21.8)"/>
<ellipse cx="6.9" cy="53.8" rx="4.6" ry="12.6" transform="rotate(12 6.9 53.8)"/>
<ellipse cx="137.5" cy="24.1" rx="6.0" ry="11.9" transform="rotate(12 137.5 24.1)"/>
<ellipse cx="158.1" cy="48.1" rx="6.0" ry="13.7" transform="rotate(0 158.1 48.1)"/>
<ellipse cx="153.1" cy="93.9" rx="5.0" ry="13.7" transform="rotate(4 153.1 93.9)"/>
<ellipse cx="75.6" cy="5.0" rx="16.0" ry="2.7" transform="rotate(0 75.6 5.0)"/>
<ellipse cx="128.3" cy="9.2" rx="10.5" ry="3.2" transform="rotate(18 128.3 9.2)"/>
<ellipse cx="34.4" cy="6.9" rx="11.5" ry="2.7" transform="rotate(-10 34.4 6.9)"/>
<ellipse cx="4.6" cy="13.7" rx="6.9" ry="3.2" transform="rotate(-20 4.6 13.7)"/>
<ellipse cx="52.7" cy="16.0" rx="9.2" ry="2.7" transform="rotate(-30 52.7 16.0)"/>
</g></g>
<g filter="url(#bl3)"><path d="M57.3 16.5C62.2 14.2 69.1 10.8 75.6 11.5C82.1 12.1 89.0 17.2 96.2 20.6C103.5 24.1 112.9 26.7 119.2 32.1C125.5 37.4 130.1 45.4 134.0 52.7C137.9 60.0 140.4 68.0 142.5 75.6C144.6 83.3 147.3 91.8 146.6 98.5C146.0 105.2 143.2 110.4 138.6 115.7C134.0 121.1 138.8 128.1 119.2 130.6C99.5 133.1 38.4 135.2 20.6 130.6C2.9 126.0 14.1 111.5 12.6 103.1C11.1 94.7 10.1 87.8 11.5 80.2C12.8 72.6 16.8 64.2 20.6 57.3C24.4 50.4 30.2 44.3 34.4 39.0C38.6 33.6 42.0 28.9 45.8 25.2C49.6 21.5 52.3 18.8 57.3 16.5Z" fill="#dd8dba" opacity="0.6"/></g>
<g filter="url(#rag)"><path d="M57.3 16.5C62.2 14.2 69.1 10.8 75.6 11.5C82.1 12.1 89.0 17.2 96.2 20.6C103.5 24.1 112.9 26.7 119.2 32.1C125.5 37.4 130.1 45.4 134.0 52.7C137.9 60.0 140.4 68.0 142.5 75.6C144.6 83.3 147.3 91.8 146.6 98.5C146.0 105.2 143.2 110.4 138.6 115.7C134.0 121.1 138.8 128.1 119.2 130.6C99.5 133.1 38.4 135.2 20.6 130.6C2.9 126.0 14.1 111.5 12.6 103.1C11.1 94.7 10.1 87.8 11.5 80.2C12.8 72.6 16.8 64.2 20.6 57.3C24.4 50.4 30.2 44.3 34.4 39.0C38.6 33.6 42.0 28.9 45.8 25.2C49.6 21.5 52.3 18.8 57.3 16.5Z" fill="#e07fae"/></g>
<g filter="url(#bl3)"><ellipse cx="84.8" cy="68.7" rx="43.5" ry="34.4" fill="#d568a0" opacity="0.6"/></g>
<g mask="url(#m4t)">
<rect width="162" height="122" filter="url(#spP2)" opacity="0.6"/>
<rect width="162" height="122" filter="url(#spD2)" opacity="0.8"/>
<rect width="162" height="122" filter="url(#spD4)" opacity="0.5"/>
<rect width="162" height="122" filter="url(#spD3)" opacity="0.35"/>
</g>
<g filter="url(#bl2)" fill="none" stroke="#d23674" stroke-linecap="round"><path d="M44.7 51.6Q51.6 28.6 68.7 20.6" stroke-width="4.5" opacity="0.5"/><path d="M18.3 89.4Q21.8 66.4 34.4 51.6" stroke-width="4" opacity="0.4"/><path d="M128.3 66.4Q143.2 91.7 139.8 113.4" stroke-width="4.5" opacity="0.45"/><path d="M75.6 19.5Q103.1 25.2 123.7 45.8" stroke-width="3.5" opacity="0.3"/><ellipse cx="158.6" cy="115.7" rx="4.5" ry="5" fill="#c93a6e" stroke="none" opacity="0.9"/></g>
<g filter="url(#bl1)"><path d="M67.8 95.1q3 -3.2 6.4 -1.4q2.8 2.6 1.8 7.4q-0.6 5.4 -3.6 6q-3.4 -0.6 -4.4 -5.6q-1.4 -3.6 -0.2 -6.4z" fill="#fbf6fb"/></g>
</svg>
<rect x="108.5" y="174.4" width="160.8" height="120.7" fill="none" stroke="#222" stroke-width="0.9"/>
<rect x="277.2" y="175.0" width="161.6" height="120.5" fill="none" stroke="#7d7d7d" stroke-width="0.9"/>
<rect x="108.5" y="298.3" width="160.8" height="121.0" fill="none" stroke="#222" stroke-width="0.9"/>
<rect x="277.2" y="297.9" width="161.6" height="120.8" fill="none" stroke="#7d7d7d" stroke-width="0.9"/>
<rect x="277.2" y="295.6" width="161.6" height="2.2" fill="#8a8a8a"/>
<rect x="188.6" y="224.2" width="40.4" height="29.8" fill="none" stroke="#000" stroke-width="2.6"/>
<rect x="299.7" y="194.9" width="40.8" height="30.0" fill="none" stroke="#000" stroke-width="2.6"/>
<path d="M217.4 255.3V289" stroke="#000" stroke-width="0.8"/><path d="M214.6 287.6H220.2L217.4 293.6Z" fill="#000"/>
<path d="M327.3 226.2V289.5" stroke="#000" stroke-width="0.8"/><path d="M324.4 288.2H330.2L327.3 294.4Z" fill="#000"/>
<path d="M224.2 291.8H266.3M393.3 291H434.9M223.9 413.9H265.9M393.3 414.4H435.4" stroke="#000" stroke-width="2.2"/>
</g>
<g id="box">
<path d="M495.1 225.3V382.4H611.7" stroke="#333" stroke-width="1.1" fill="none"/>
<path d="M492 232.1H495.1" stroke="#333" stroke-width="1"/>
<text x="489.8" y="235.6" font-size="9.8" text-anchor="end" fill="#444" stroke="#444">40</text>
<path d="M492 267.8H495.1" stroke="#333" stroke-width="1"/>
<text x="489.8" y="271.3" font-size="9.8" text-anchor="end" fill="#444" stroke="#444">30</text>
<path d="M492 303.4H495.1" stroke="#333" stroke-width="1"/>
<text x="489.8" y="306.9" font-size="9.8" text-anchor="end" fill="#444" stroke="#444">20</text>
<path d="M492 339.1H495.1" stroke="#333" stroke-width="1"/>
<text x="489.8" y="342.6" font-size="9.8" text-anchor="end" fill="#444" stroke="#444">10</text>
<path d="M492 374.7H495.1" stroke="#333" stroke-width="1"/>
<text x="489.8" y="378.2" font-size="9.8" text-anchor="end" fill="#444" stroke="#444">0</text>
<path d="M526.9 382.4V385.3" stroke="#333" stroke-width="1"/>
<path d="M580.1 382.4V385.3" stroke="#333" stroke-width="1"/>
<text transform="translate(474.2 304.8) rotate(-90)" font-size="11" text-anchor="middle" fill="#0d0d0d" stroke="#0d0d0d">Tumour number (/rt lobe section)</text>
<text x="528.2" y="399.8" font-size="11" text-anchor="middle" fill="#0d0d0d" stroke="#0d0d0d">Vehicle</text>
<text x="581.1" y="399.8" font-size="11" text-anchor="middle" fill="#0d0d0d" stroke="#0d0d0d">Statin</text>
<path d="M526.9 260.9V288.9" stroke="#333" stroke-width="0.9"/>
<rect x="513.4" y="288.9" width="27.2" height="32.4" fill="#fff" stroke="#333" stroke-width="0.9"/>
<path d="M513.4 317.7H540.6" stroke="#333" stroke-width="1.8"/>
<circle cx="527.1" cy="260.4" r="2.9" fill="none" stroke="#333" stroke-width="0.9"/>
<circle cx="530.4" cy="317.7" r="2.9" fill="none" stroke="#333" stroke-width="0.9"/>
<circle cx="527.1" cy="324.8" r="2.9" fill="none" stroke="#333" stroke-width="0.9"/>
<path d="M580.1 321.3V331.7" stroke="#333" stroke-width="0.9"/>
<rect x="566.6" y="331.7" width="27.5" height="36.7" fill="#fff" stroke="#333" stroke-width="0.9"/>
<path d="M566.6 351.3H594.1" stroke="#333" stroke-width="1.8"/>
<circle cx="580.1" cy="321.3" r="2.9" fill="none" stroke="#333" stroke-width="0.9"/>
<circle cx="580.1" cy="335.3" r="2.9" fill="none" stroke="#333" stroke-width="0.9"/>
<circle cx="585.7" cy="367.6" r="2.9" fill="none" stroke="#333" stroke-width="0.9"/>
<circle cx="580.1" cy="371.1" r="2.9" fill="none" stroke="#333" stroke-width="0.9"/>
<path d="M526.1 242.6V239.5H580.1V277.5" stroke="#333" stroke-width="0.9" fill="none"/>
<text x="565.1" y="297.9" font-size="9.7" text-anchor="start" fill="#0d0d0d" stroke="#0d0d0d">p=0.13</text>
</g>
<g id="pD">
<text x="67.0" y="447.7" font-size="14.3" text-anchor="start" fill="#000" stroke="#000" font-weight="bold">D</text>
<path d="M151.8 442.5V581.5" stroke="#f4f4f4" stroke-width="0.8"/>
<path d="M195.2 442.5V581.5" stroke="#f4f4f4" stroke-width="0.8"/>
<path d="M238.6 442.5V581.5" stroke="#f4f4f4" stroke-width="0.8"/>
<path d="M281.9 442.5V581.5" stroke="#f4f4f4" stroke-width="0.8"/>
<path d="M325.2 442.5V581.5" stroke="#f4f4f4" stroke-width="0.8"/>
<path d="M368.6 442.5V581.5" stroke="#f4f4f4" stroke-width="0.8"/>
<path d="M411.9 442.5V581.5" stroke="#f4f4f4" stroke-width="0.8"/>
<path d="M455.3 442.5V581.5" stroke="#f4f4f4" stroke-width="0.8"/>
<path d="M498.7 442.5V581.5" stroke="#f4f4f4" stroke-width="0.8"/>
<rect x="114.1" y="563.1" width="8.0" height="18.4" fill="#fff" stroke="#0d0d0d" stroke-width="0.8"/>
<rect x="122.1" y="562.3" width="8.0" height="19.2" fill="#b3b3b3" stroke="#0d0d0d" stroke-width="0.8"/>
<rect x="130.1" y="493.4" width="8.0" height="88.1" fill="#fff" stroke="#ff0000" stroke-width="0.8"/>
<rect x="138.1" y="532.4" width="8.0" height="49.1" fill="#ffb3b3" stroke="#ff0000" stroke-width="0.8"/>
<rect x="157.4" y="571.6" width="8.0" height="9.9" fill="#fff" stroke="#0d0d0d" stroke-width="0.8"/>
<rect x="165.4" y="570.2" width="8.0" height="11.3" fill="#b3b3b3" stroke="#0d0d0d" stroke-width="0.8"/>
<rect x="173.4" y="536.3" width="8.0" height="45.2" fill="#fff" stroke="#ff0000" stroke-width="0.8"/>
<rect x="181.4" y="561.3" width="8.0" height="20.2" fill="#ffb3b3" stroke="#ff0000" stroke-width="0.8"/>
<rect x="200.8" y="540.9" width="8.0" height="40.6" fill="#fff" stroke="#0d0d0d" stroke-width="0.8"/>
<rect x="208.8" y="553.8" width="8.0" height="27.7" fill="#b3b3b3" stroke="#0d0d0d" stroke-width="0.8"/>
<rect x="216.8" y="541.5" width="8.0" height="40.0" fill="#fff" stroke="#ff0000" stroke-width="0.8"/>
<rect x="224.8" y="540.9" width="8.0" height="40.6" fill="#ffb3b3" stroke="#ff0000" stroke-width="0.8"/>
<rect x="244.2" y="564.7" width="8.0" height="16.8" fill="#fff" stroke="#0d0d0d" stroke-width="0.8"/>
<rect x="252.2" y="566.6" width="8.0" height="14.9" fill="#b3b3b3" stroke="#0d0d0d" stroke-width="0.8"/>
<rect x="260.1" y="566.6" width="8.0" height="14.9" fill="#fff" stroke="#ff0000" stroke-width="0.8"/>
<rect x="268.1" y="571.2" width="8.0" height="10.3" fill="#ffb3b3" stroke="#ff0000" stroke-width="0.8"/>
<rect x="287.5" y="568.6" width="8.0" height="12.9" fill="#fff" stroke="#0d0d0d" stroke-width="0.8"/>
<rect x="295.5" y="566.6" width="8.0" height="14.9" fill="#b3b3b3" stroke="#0d0d0d" stroke-width="0.8"/>
<rect x="303.5" y="542.5" width="8.0" height="39.0" fill="#fff" stroke="#ff0000" stroke-width="0.8"/>
<rect x="311.5" y="557.7" width="8.0" height="23.8" fill="#ffb3b3" stroke="#ff0000" stroke-width="0.8"/>
<rect x="330.9" y="564.1" width="8.0" height="17.4" fill="#fff" stroke="#0d0d0d" stroke-width="0.8"/>
<rect x="338.9" y="566.6" width="8.0" height="14.9" fill="#b3b3b3" stroke="#0d0d0d" stroke-width="0.8"/>
<rect x="346.9" y="564.7" width="8.0" height="16.8" fill="#fff" stroke="#ff0000" stroke-width="0.8"/>
<rect x="354.9" y="551.2" width="8.0" height="30.3" fill="#ffb3b3" stroke="#ff0000" stroke-width="0.8"/>
<rect x="374.2" y="532.0" width="8.0" height="49.5" fill="#fff" stroke="#0d0d0d" stroke-width="0.8"/>
<rect x="382.2" y="528.4" width="8.0" height="53.1" fill="#b3b3b3" stroke="#0d0d0d" stroke-width="0.8"/>
<rect x="390.2" y="519.5" width="8.0" height="62.0" fill="#fff" stroke="#ff0000" stroke-width="0.8"/>
<rect x="398.2" y="481.5" width="8.0" height="100.0" fill="#ffb3b3" stroke="#ff0000" stroke-width="0.8"/>
<rect x="417.6" y="505.2" width="8.0" height="76.3" fill="#fff" stroke="#0d0d0d" stroke-width="0.8"/>
<rect x="425.6" y="509.6" width="8.0" height="71.9" fill="#b3b3b3" stroke="#0d0d0d" stroke-width="0.8"/>
<rect x="433.6" y="510.2" width="8.0" height="71.3" fill="#fff" stroke="#ff0000" stroke-width="0.8"/>
<rect x="441.6" y="511.2" width="8.0" height="70.3" fill="#ffb3b3" stroke="#ff0000" stroke-width="0.8"/>
<rect x="460.9" y="564.7" width="8.0" height="16.8" fill="#fff" stroke="#0d0d0d" stroke-width="0.8"/>
<rect x="468.9" y="567.2" width="8.0" height="14.3" fill="#b3b3b3" stroke="#0d0d0d" stroke-width="0.8"/>
<rect x="476.9" y="571.6" width="8.0" height="9.9" fill="#fff" stroke="#ff0000" stroke-width="0.8"/>
<rect x="484.9" y="565.6" width="8.0" height="15.9" fill="#ffb3b3" stroke="#ff0000" stroke-width="0.8"/>
<rect x="504.3" y="561.3" width="8.0" height="20.2" fill="#fff" stroke="#0d0d0d" stroke-width="0.8"/>
<rect x="512.2" y="564.7" width="8.0" height="16.8" fill="#b3b3b3" stroke="#0d0d0d" stroke-width="0.8"/>
<rect x="520.2" y="544.5" width="8.0" height="37.0" fill="#fff" stroke="#ff0000" stroke-width="0.8"/>
<rect x="528.2" y="564.7" width="8.0" height="16.8" fill="#ffb3b3" stroke="#ff0000" stroke-width="0.8"/>
<path d="M118.1 559.5V566.5M115.7 559.5H120.5M115.7 566.5H120.5" stroke="#0d0d0d" stroke-width="0.7" fill="none"/>
<circle cx="116.1" cy="565.5" r="2.15" fill="none" stroke="#0d0d0d" stroke-width="0.85"/>
<circle cx="118.1" cy="560.5" r="2.15" fill="none" stroke="#0d0d0d" stroke-width="0.85"/>
<circle cx="120.1" cy="565.5" r="2.15" fill="none" stroke="#0d0d0d" stroke-width="0.85"/>
<circle cx="117.1" cy="563.5" r="2.15" fill="none" stroke="#0d0d0d" stroke-width="0.85"/>
<circle cx="119.6" cy="562.5" r="2.15" fill="none" stroke="#0d0d0d" stroke-width="0.85"/>
<path d="M126.1 555.1V568.6M123.7 555.1H128.5M123.7 568.6H128.5" stroke="#0d0d0d" stroke-width="0.7" fill="none"/>
<circle cx="126.1" cy="554.4" r="2.15" fill="none" stroke="#0d0d0d" stroke-width="0.85"/>
<circle cx="126.1" cy="562.3" r="2.15" fill="none" stroke="#0d0d0d" stroke-width="0.85"/>
<circle cx="126.1" cy="571.0" r="2.15" fill="none" stroke="#0d0d0d" stroke-width="0.85"/>
<path d="M134.1 473.6V513.2M131.7 473.6H136.5M131.7 513.2H136.5" stroke="#ff0000" stroke-width="0.7" fill="none"/>
<circle cx="134.1" cy="473.6" r="2.15" fill="none" stroke="#ff0000" stroke-width="0.85"/>
<circle cx="134.1" cy="492.0" r="2.15" fill="none" stroke="#ff0000" stroke-width="0.85"/>
<circle cx="134.1" cy="513.2" r="2.15" fill="none" stroke="#ff0000" stroke-width="0.85"/>
<path d="M142.1 521.5V541.9M139.7 521.5H144.5M139.7 541.9H144.5" stroke="#ff0000" stroke-width="0.7" fill="none"/>
<circle cx="142.1" cy="519.5" r="2.15" fill="none" stroke="#ff0000" stroke-width="0.85"/>
<circle cx="142.1" cy="527.6" r="2.15" fill="none" stroke="#ff0000" stroke-width="0.85"/>
<circle cx="142.1" cy="534.4" r="2.15" fill="none" stroke="#ff0000" stroke-width="0.85"/>
<circle cx="142.1" cy="545.4" r="2.15" fill="none" stroke="#ff0000" stroke-width="0.85"/>
<path d="M161.4 570.0V573.5M159.0 570.0H163.8M159.0 573.5H163.8" stroke="#0d0d0d" stroke-width="0.7" fill="none"/>
<circle cx="159.9" cy="572.0" r="2.15" fill="none" stroke="#0d0d0d" stroke-width="0.85"/>
<circle cx="161.4" cy="569.5" r="2.15" fill="none" stroke="#0d0d0d" stroke-width="0.85"/>
<circle cx="162.9" cy="572.5" r="2.15" fill="none" stroke="#0d0d0d" stroke-width="0.85"/>
<circle cx="161.4" cy="571.0" r="2.15" fill="none" stroke="#0d0d0d" stroke-width="0.85"/>
<path d="M169.4 566.5V574.0M167.0 566.5H171.8M167.0 574.0H171.8" stroke="#0d0d0d" stroke-width="0.7" fill="none"/>
<circle cx="169.4" cy="567.6" r="2.15" fill="none" stroke="#0d0d0d" stroke-width="0.85"/>
<circle cx="170.9" cy="569.6" r="2.15" fill="none" stroke="#0d0d0d" stroke-width="0.85"/>
<circle cx="169.4" cy="577.5" r="2.15" fill="none" stroke="#0d0d0d" stroke-width="0.85"/>
<path d="M177.4 524.0V546.8M175.0 524.0H179.8M175.0 546.8H179.8" stroke="#ff0000" stroke-width="0.7" fill="none"/>
<circle cx="177.4" cy="524.0" r="2.15" fill="none" stroke="#ff0000" stroke-width="0.85"/>
<circle cx="177.4" cy="541.5" r="2.15" fill="none" stroke="#ff0000" stroke-width="0.85"/>
<circle cx="177.4" cy="545.4" r="2.15" fill="none" stroke="#ff0000" stroke-width="0.85"/>
<path d="M185.4 555.7V566.6M183.0 555.7H187.8M183.0 566.6H187.8" stroke="#ff0000" stroke-width="0.7" fill="none"/>
<circle cx="185.4" cy="555.1" r="2.15" fill="none" stroke="#ff0000" stroke-width="0.85"/>
<circle cx="185.4" cy="560.7" r="2.15" fill="none" stroke="#ff0000" stroke-width="0.85"/>
<circle cx="184.4" cy="562.7" r="2.15" fill="none" stroke="#ff0000" stroke-width="0.85"/>
<circle cx="185.4" cy="567.6" r="2.15" fill="none" stroke="#ff0000" stroke-width="0.85"/>
<path d="M204.8 520.7V561.0M202.4 520.7H207.2M202.4 561.0H207.2" stroke="#0d0d0d" stroke-width="0.7" fill="none"/>
<circle cx="204.8" cy="507.8" r="2.15" fill="none" stroke="#0d0d0d" stroke-width="0.85"/>
<circle cx="204.8" cy="540.9" r="2.15" fill="none" stroke="#0d0d0d" stroke-width="0.85"/>
<circle cx="204.8" cy="543.9" r="2.15" fill="none" stroke="#0d0d0d" stroke-width="0.85"/>
<circle cx="204.8" cy="553.8" r="2.15" fill="none" stroke="#0d0d0d" stroke-width="0.85"/>
<circle cx="204.8" cy="559.3" r="2.15" fill="none" stroke="#0d0d0d" stroke-width="0.85"/>
<path d="M212.8 552.0V555.5M210.4 552.0H215.2M210.4 555.5H215.2" stroke="#0d0d0d" stroke-width="0.7" fill="none"/>
<circle cx="211.8" cy="555.0" r="2.15" fill="none" stroke="#0d0d0d" stroke-width="0.85"/>
<circle cx="213.8" cy="553.5" r="2.15" fill="none" stroke="#0d0d0d" stroke-width="0.85"/>
<circle cx="215.3" cy="552.5" r="2.15" fill="none" stroke="#0d0d0d" stroke-width="0.85"/>
<path d="M220.8 536.9V546.8M218.4 536.9H223.2M218.4 546.8H223.2" stroke="#ff0000" stroke-width="0.7" fill="none"/>
<circle cx="220.8" cy="536.9" r="2.15" fill="none" stroke="#ff0000" stroke-width="0.85"/>
<circle cx="219.3" cy="542.9" r="2.15" fill="none" stroke="#ff0000" stroke-width="0.85"/>
<circle cx="222.3" cy="545.2" r="2.15" fill="none" stroke="#ff0000" stroke-width="0.85"/>
<circle cx="220.8" cy="541.0" r="2.15" fill="none" stroke="#ff0000" stroke-width="0.85"/>
<path d="M228.8 534.0V548.0M226.4 534.0H231.2M226.4 548.0H231.2" stroke="#ff0000" stroke-width="0.7" fill="none"/>
<circle cx="230.3" cy="533.4" r="2.15" fill="none" stroke="#ff0000" stroke-width="0.85"/>
<circle cx="230.3" cy="536.9" r="2.15" fill="none" stroke="#ff0000" stroke-width="0.85"/>
<circle cx="226.8" cy="545.8" r="2.15" fill="none" stroke="#ff0000" stroke-width="0.85"/>
<circle cx="229.8" cy="547.0" r="2.15" fill="none" stroke="#ff0000" stroke-width="0.85"/>
<circle cx="232.3" cy="548.2" r="2.15" fill="none" stroke="#ff0000" stroke-width="0.85"/>
<path d="M248.2 557.3V572.0M245.8 557.3H250.6M245.8 572.0H250.6" stroke="#0d0d0d" stroke-width="0.7" fill="none"/>
<circle cx="248.2" cy="553.8" r="2.15" fill="none" stroke="#0d0d0d" stroke-width="0.85"/>
<circle cx="248.2" cy="564.7" r="2.15" fill="none" stroke="#0d0d0d" stroke-width="0.85"/>
<circle cx="248.2" cy="567.6" r="2.15" fill="none" stroke="#0d0d0d" stroke-width="0.85"/>
<circle cx="248.2" cy="570.6" r="2.15" fill="none" stroke="#0d0d0d" stroke-width="0.85"/>
<path d="M256.1 565.0V568.0M253.7 565.0H258.5M253.7 568.0H258.5" stroke="#0d0d0d" stroke-width="0.7" fill="none"/>
<circle cx="254.6" cy="566.5" r="2.15" fill="none" stroke="#0d0d0d" stroke-width="0.85"/>
<circle cx="256.6" cy="565.5" r="2.15" fill="none" stroke="#0d0d0d" stroke-width="0.85"/>
<circle cx="258.1" cy="567.0" r="2.15" fill="none" stroke="#0d0d0d" stroke-width="0.85"/>
<path d="M264.1 562.0V571.0M261.8 562.0H266.5M261.8 571.0H266.5" stroke="#ff0000" stroke-width="0.7" fill="none"/>
<circle cx="264.1" cy="564.1" r="2.15" fill="none" stroke="#ff0000" stroke-width="0.85"/>
<circle cx="265.1" cy="566.6" r="2.15" fill="none" stroke="#ff0000" stroke-width="0.85"/>
<circle cx="263.1" cy="571.6" r="2.15" fill="none" stroke="#ff0000" stroke-width="0.85"/>
<path d="M272.1 569.5V573.0M269.8 569.5H274.5M269.8 573.0H274.5" stroke="#ff0000" stroke-width="0.7" fill="none"/>
<circle cx="270.1" cy="570.5" r="2.15" fill="none" stroke="#ff0000" stroke-width="0.85"/>
<circle cx="272.1" cy="571.5" r="2.15" fill="none" stroke="#ff0000" stroke-width="0.85"/>
<circle cx="274.1" cy="570.0" r="2.15" fill="none" stroke="#ff0000" stroke-width="0.85"/>
<circle cx="275.1" cy="572.0" r="2.15" fill="none" stroke="#ff0000" stroke-width="0.85"/>
<path d="M291.5 563.0V574.0M289.1 563.0H293.9M289.1 574.0H293.9" stroke="#0d0d0d" stroke-width="0.7" fill="none"/>
<circle cx="292.5" cy="560.1" r="2.15" fill="none" stroke="#0d0d0d" stroke-width="0.85"/>
<circle cx="290.0" cy="568.0" r="2.15" fill="none" stroke="#0d0d0d" stroke-width="0.85"/>
<circle cx="292.0" cy="570.0" r="2.15" fill="none" stroke="#0d0d0d" stroke-width="0.85"/>
<circle cx="293.0" cy="567.0" r="2.15" fill="none" stroke="#0d0d0d" stroke-width="0.85"/>
<circle cx="291.5" cy="571.5" r="2.15" fill="none" stroke="#0d0d0d" stroke-width="0.85"/>
<path d="M299.5 563.0V570.0M297.1 563.0H301.9M297.1 570.0H301.9" stroke="#0d0d0d" stroke-width="0.7" fill="none"/>
<circle cx="299.5" cy="563.0" r="2.15" fill="none" stroke="#0d0d0d" stroke-width="0.85"/>
<circle cx="301.0" cy="566.0" r="2.15" fill="none" stroke="#0d0d0d" stroke-width="0.85"/>
<circle cx="299.5" cy="569.6" r="2.15" fill="none" stroke="#0d0d0d" stroke-width="0.85"/>
<path d="M307.5 519.1V566.2M305.1 519.1H309.9M305.1 566.2H309.9" stroke="#ff0000" stroke-width="0.7" fill="none"/>
<circle cx="308.0" cy="515.1" r="2.15" fill="none" stroke="#ff0000" stroke-width="0.85"/>
<circle cx="307.5" cy="554.4" r="2.15" fill="none" stroke="#ff0000" stroke-width="0.85"/>
<circle cx="307.5" cy="556.7" r="2.15" fill="none" stroke="#ff0000" stroke-width="0.85"/>
<path d="M315.5 551.2V564.3M313.1 551.2H317.9M313.1 564.3H317.9" stroke="#ff0000" stroke-width="0.7" fill="none"/>
<circle cx="315.5" cy="550.2" r="2.15" fill="none" stroke="#ff0000" stroke-width="0.85"/>
<circle cx="315.5" cy="553.8" r="2.15" fill="none" stroke="#ff0000" stroke-width="0.85"/>
<circle cx="315.5" cy="559.7" r="2.15" fill="none" stroke="#ff0000" stroke-width="0.85"/>
<circle cx="315.5" cy="562.7" r="2.15" fill="none" stroke="#ff0000" stroke-width="0.85"/>
<path d="M334.9 554.8V573.0M332.5 554.8H337.2M332.5 573.0H337.2" stroke="#0d0d0d" stroke-width="0.7" fill="none"/>
<circle cx="335.4" cy="548.8" r="2.15" fill="none" stroke="#0d0d0d" stroke-width="0.85"/>
<circle cx="333.9" cy="565.0" r="2.15" fill="none" stroke="#0d0d0d" stroke-width="0.85"/>
<circle cx="335.9" cy="564.5" r="2.15" fill="none" stroke="#0d0d0d" stroke-width="0.85"/>
<circle cx="334.9" cy="568.6" r="2.15" fill="none" stroke="#0d0d0d" stroke-width="0.85"/>
<circle cx="334.9" cy="571.6" r="2.15" fill="none" stroke="#0d0d0d" stroke-width="0.85"/>
<path d="M342.9 563.5V568.5M340.5 563.5H345.2M340.5 568.5H345.2" stroke="#0d0d0d" stroke-width="0.7" fill="none"/>
<circle cx="341.4" cy="565.5" r="2.15" fill="none" stroke="#0d0d0d" stroke-width="0.85"/>
<circle cx="343.4" cy="564.0" r="2.15" fill="none" stroke="#0d0d0d" stroke-width="0.85"/>
<circle cx="345.4" cy="562.7" r="2.15" fill="none" stroke="#0d0d0d" stroke-width="0.85"/>
<path d="M350.9 558.7V568.6M348.5 558.7H353.2M348.5 568.6H353.2" stroke="#ff0000" stroke-width="0.7" fill="none"/>
<circle cx="351.9" cy="556.7" r="2.15" fill="none" stroke="#ff0000" stroke-width="0.85"/>
<circle cx="351.9" cy="563.7" r="2.15" fill="none" stroke="#ff0000" stroke-width="0.85"/>
<circle cx="350.4" cy="566.6" r="2.15" fill="none" stroke="#ff0000" stroke-width="0.85"/>
<path d="M358.9 530.4V572.2M356.5 530.4H361.2M356.5 572.2H361.2" stroke="#ff0000" stroke-width="0.7" fill="none"/>
<circle cx="359.9" cy="521.7" r="2.15" fill="none" stroke="#ff0000" stroke-width="0.85"/>
<circle cx="359.9" cy="553.8" r="2.15" fill="none" stroke="#ff0000" stroke-width="0.85"/>
<circle cx="359.9" cy="557.3" r="2.15" fill="none" stroke="#ff0000" stroke-width="0.85"/>
<circle cx="359.9" cy="570.6" r="2.15" fill="none" stroke="#ff0000" stroke-width="0.85"/>
<path d="M378.2 527.5V537.0M375.8 527.5H380.6M375.8 537.0H380.6" stroke="#0d0d0d" stroke-width="0.7" fill="none"/>
<circle cx="376.7" cy="527.0" r="2.15" fill="none" stroke="#0d0d0d" stroke-width="0.85"/>
<circle cx="379.7" cy="527.0" r="2.15" fill="none" stroke="#0d0d0d" stroke-width="0.85"/>
<circle cx="378.2" cy="532.0" r="2.15" fill="none" stroke="#0d0d0d" stroke-width="0.85"/>
<circle cx="378.2" cy="535.0" r="2.15" fill="none" stroke="#0d0d0d" stroke-width="0.85"/>
<circle cx="378.2" cy="538.5" r="2.15" fill="none" stroke="#0d0d0d" stroke-width="0.85"/>
<path d="M386.2 515.1V543.3M383.8 515.1H388.6M383.8 543.3H388.6" stroke="#0d0d0d" stroke-width="0.7" fill="none"/>
<circle cx="386.2" cy="515.1" r="2.15" fill="none" stroke="#0d0d0d" stroke-width="0.85"/>
<circle cx="386.2" cy="527.0" r="2.15" fill="none" stroke="#0d0d0d" stroke-width="0.85"/>
<circle cx="386.2" cy="543.3" r="2.15" fill="none" stroke="#0d0d0d" stroke-width="0.85"/>
<path d="M394.2 509.2V531.0M391.8 509.2H396.6M391.8 531.0H396.6" stroke="#ff0000" stroke-width="0.7" fill="none"/>
<circle cx="392.2" cy="514.2" r="2.15" fill="none" stroke="#ff0000" stroke-width="0.85"/>
<circle cx="396.7" cy="514.2" r="2.15" fill="none" stroke="#ff0000" stroke-width="0.85"/>
<circle cx="394.2" cy="532.4" r="2.15" fill="none" stroke="#ff0000" stroke-width="0.85"/>
<path d="M402.2 466.6V496.3M399.8 466.6H404.6M399.8 496.3H404.6" stroke="#ff0000" stroke-width="0.7" fill="none"/>
<circle cx="400.7" cy="471.0" r="2.15" fill="none" stroke="#ff0000" stroke-width="0.85"/>
<circle cx="404.7" cy="471.0" r="2.15" fill="none" stroke="#ff0000" stroke-width="0.85"/>
<circle cx="402.2" cy="482.5" r="2.15" fill="none" stroke="#ff0000" stroke-width="0.85"/>
<circle cx="402.2" cy="502.3" r="2.15" fill="none" stroke="#ff0000" stroke-width="0.85"/>
<path d="M421.6 495.3V519.1M419.2 495.3H423.9M419.2 519.1H423.9" stroke="#0d0d0d" stroke-width="0.7" fill="none"/>
<circle cx="420.1" cy="493.8" r="2.15" fill="none" stroke="#0d0d0d" stroke-width="0.85"/>
<circle cx="424.1" cy="493.8" r="2.15" fill="none" stroke="#0d0d0d" stroke-width="0.85"/>
<circle cx="421.6" cy="502.3" r="2.15" fill="none" stroke="#0d0d0d" stroke-width="0.85"/>
<circle cx="421.6" cy="511.8" r="2.15" fill="none" stroke="#0d0d0d" stroke-width="0.85"/>
<circle cx="421.6" cy="527.0" r="2.15" fill="none" stroke="#0d0d0d" stroke-width="0.85"/>
<path d="M429.6 503.3V517.1M427.2 503.3H431.9M427.2 517.1H431.9" stroke="#0d0d0d" stroke-width="0.7" fill="none"/>
<circle cx="429.6" cy="504.7" r="2.15" fill="none" stroke="#0d0d0d" stroke-width="0.85"/>
<circle cx="429.6" cy="509.2" r="2.15" fill="none" stroke="#0d0d0d" stroke-width="0.85"/>
<circle cx="429.6" cy="516.5" r="2.15" fill="none" stroke="#0d0d0d" stroke-width="0.85"/>
<path d="M437.6 503.3V520.1M435.2 503.3H439.9M435.2 520.1H439.9" stroke="#ff0000" stroke-width="0.7" fill="none"/>
<circle cx="437.6" cy="504.9" r="2.15" fill="none" stroke="#ff0000" stroke-width="0.85"/>
<circle cx="437.6" cy="509.2" r="2.15" fill="none" stroke="#ff0000" stroke-width="0.85"/>
<circle cx="437.6" cy="520.7" r="2.15" fill="none" stroke="#ff0000" stroke-width="0.85"/>
<path d="M445.6 499.3V523.1M443.2 499.3H447.9M443.2 523.1H447.9" stroke="#ff0000" stroke-width="0.7" fill="none"/>
<circle cx="445.6" cy="494.8" r="2.15" fill="none" stroke="#ff0000" stroke-width="0.85"/>
<circle cx="445.6" cy="509.2" r="2.15" fill="none" stroke="#ff0000" stroke-width="0.85"/>
<circle cx="444.6" cy="519.1" r="2.15" fill="none" stroke="#ff0000" stroke-width="0.85"/>
<circle cx="446.6" cy="521.5" r="2.15" fill="none" stroke="#ff0000" stroke-width="0.85"/>
<path d="M464.9 562.5V567.5M462.5 562.5H467.3M462.5 567.5H467.3" stroke="#0d0d0d" stroke-width="0.7" fill="none"/>
<circle cx="462.9" cy="562.5" r="2.15" fill="none" stroke="#0d0d0d" stroke-width="0.85"/>
<circle cx="464.9" cy="564.0" r="2.15" fill="none" stroke="#0d0d0d" stroke-width="0.85"/>
<circle cx="466.9" cy="565.0" r="2.15" fill="none" stroke="#0d0d0d" stroke-width="0.85"/>
<circle cx="464.9" cy="568.0" r="2.15" fill="none" stroke="#0d0d0d" stroke-width="0.85"/>
<circle cx="463.9" cy="569.6" r="2.15" fill="none" stroke="#0d0d0d" stroke-width="0.85"/>
<path d="M472.9 566.0V568.5M470.5 566.0H475.3M470.5 568.5H475.3" stroke="#0d0d0d" stroke-width="0.7" fill="none"/>
<circle cx="471.4" cy="566.5" r="2.15" fill="none" stroke="#0d0d0d" stroke-width="0.85"/>
<circle cx="473.4" cy="567.5" r="2.15" fill="none" stroke="#0d0d0d" stroke-width="0.85"/>
<circle cx="475.4" cy="567.0" r="2.15" fill="none" stroke="#0d0d0d" stroke-width="0.85"/>
<path d="M480.9 567.0V575.0M478.5 567.0H483.3M478.5 575.0H483.3" stroke="#ff0000" stroke-width="0.7" fill="none"/>
<circle cx="480.9" cy="567.0" r="2.15" fill="none" stroke="#ff0000" stroke-width="0.85"/>
<circle cx="480.9" cy="571.6" r="2.15" fill="none" stroke="#ff0000" stroke-width="0.85"/>
<circle cx="479.9" cy="574.6" r="2.15" fill="none" stroke="#ff0000" stroke-width="0.85"/>
<path d="M488.9 564.5V566.8M486.5 564.5H491.3M486.5 566.8H491.3" stroke="#ff0000" stroke-width="0.7" fill="none"/>
<circle cx="486.4" cy="565.5" r="2.15" fill="none" stroke="#ff0000" stroke-width="0.85"/>
<circle cx="488.4" cy="564.5" r="2.15" fill="none" stroke="#ff0000" stroke-width="0.85"/>
<circle cx="490.4" cy="565.0" r="2.15" fill="none" stroke="#ff0000" stroke-width="0.85"/>
<circle cx="491.9" cy="565.5" r="2.15" fill="none" stroke="#ff0000" stroke-width="0.85"/>
<path d="M508.3 555.0V568.0M505.9 555.0H510.7M505.9 568.0H510.7" stroke="#0d0d0d" stroke-width="0.7" fill="none"/>
<circle cx="508.3" cy="551.8" r="2.15" fill="none" stroke="#0d0d0d" stroke-width="0.85"/>
<circle cx="508.3" cy="559.7" r="2.15" fill="none" stroke="#0d0d0d" stroke-width="0.85"/>
<circle cx="506.8" cy="564.7" r="2.15" fill="none" stroke="#0d0d0d" stroke-width="0.85"/>
<circle cx="509.8" cy="566.6" r="2.15" fill="none" stroke="#0d0d0d" stroke-width="0.85"/>
<circle cx="508.3" cy="568.6" r="2.15" fill="none" stroke="#0d0d0d" stroke-width="0.85"/>
<path d="M516.2 563.0V568.0M513.9 563.0H518.6M513.9 568.0H518.6" stroke="#0d0d0d" stroke-width="0.7" fill="none"/>
<circle cx="514.2" cy="565.0" r="2.15" fill="none" stroke="#0d0d0d" stroke-width="0.85"/>
<circle cx="516.2" cy="568.0" r="2.15" fill="none" stroke="#0d0d0d" stroke-width="0.85"/>
<circle cx="518.2" cy="563.7" r="2.15" fill="none" stroke="#0d0d0d" stroke-width="0.85"/>
<circle cx="519.2" cy="567.0" r="2.15" fill="none" stroke="#0d0d0d" stroke-width="0.85"/>
<path d="M524.2 537.9V550.8M521.9 537.9H526.6M521.9 550.8H526.6" stroke="#ff0000" stroke-width="0.7" fill="none"/>
<circle cx="524.2" cy="537.9" r="2.15" fill="none" stroke="#ff0000" stroke-width="0.85"/>
<circle cx="524.8" cy="546.8" r="2.15" fill="none" stroke="#ff0000" stroke-width="0.85"/>
<circle cx="524.8" cy="550.2" r="2.15" fill="none" stroke="#ff0000" stroke-width="0.85"/>
<path d="M532.2 556.7V575.5M529.9 556.7H534.6M529.9 575.5H534.6" stroke="#ff0000" stroke-width="0.7" fill="none"/>
<circle cx="532.2" cy="553.8" r="2.15" fill="none" stroke="#ff0000" stroke-width="0.85"/>
<circle cx="532.2" cy="561.7" r="2.15" fill="none" stroke="#ff0000" stroke-width="0.85"/>
<circle cx="532.2" cy="567.6" r="2.15" fill="none" stroke="#ff0000" stroke-width="0.85"/>
<circle cx="532.2" cy="574.2" r="2.15" fill="none" stroke="#ff0000" stroke-width="0.85"/>
<rect x="108.5" y="442.5" width="433.5" height="139.0" fill="none" stroke="#222" stroke-width="0.9"/>
<text x="100.4" y="446.0" font-size="9.8" text-anchor="end" fill="#0d0d0d" stroke="#0d0d0d">30</text>
<text x="100.4" y="492.3" font-size="9.8" text-anchor="end" fill="#0d0d0d" stroke="#0d0d0d">20</text>
<text x="100.4" y="538.7" font-size="9.8" text-anchor="end" fill="#0d0d0d" stroke="#0d0d0d">10</text>
<text x="100.4" y="585.0" font-size="9.8" text-anchor="end" fill="#0d0d0d" stroke="#0d0d0d">0</text>
<text transform="translate(80.0 500.8) rotate(-90)" font-size="11" text-anchor="middle" fill="#0d0d0d" stroke="#0d0d0d">%lung cells</text>
<text x="131.7" y="461.2" font-size="9.8" text-anchor="start" fill="#0d0d0d" stroke="#0d0d0d">p=0.020</text>
<path d="M133.7 466.6V464.1H142.6V508.2" stroke="#222" stroke-width="0.85" fill="none"/>
<text x="162.0" y="511.7" font-size="9.8" text-anchor="start" fill="#0d0d0d" stroke="#0d0d0d">p=0.011</text>
<path d="M175.8 516.1V514.2H185.3V544.5" stroke="#222" stroke-width="0.85" fill="none"/>
<text x="371.9" y="452.5" font-size="9.8" text-anchor="start" fill="#0d0d0d" stroke="#0d0d0d">p=0.013</text>
<path d="M393.7 501.7V457.7H402.6V461.3" stroke="#222" stroke-width="0.85" fill="none"/>
<text x="459.8" y="549.5" font-size="9.8" text-anchor="start" fill="#0d0d0d" stroke="#0d0d0d">p=0.026</text>
<path d="M480.6 562.7V555.1H490.5" stroke="#222" stroke-width="0.85" fill="none"/>
<text x="502.0" y="525.1" font-size="9.8" text-anchor="start" fill="#0d0d0d" stroke="#0d0d0d">p=0.026</text>
<path d="M523.2 528.4H532.5V547.4" stroke="#222" stroke-width="0.85" fill="none"/>
<path d="M151.8 594.3V732.9" stroke="#f4f4f4" stroke-width="0.8"/>
<path d="M195.2 594.3V732.9" stroke="#f4f4f4" stroke-width="0.8"/>
<path d="M238.6 594.3V732.9" stroke="#f4f4f4" stroke-width="0.8"/>
<path d="M281.9 594.3V732.9" stroke="#f4f4f4" stroke-width="0.8"/>
<path d="M325.2 594.3V732.9" stroke="#f4f4f4" stroke-width="0.8"/>
<path d="M368.6 594.3V732.9" stroke="#f4f4f4" stroke-width="0.8"/>
<path d="M411.9 594.3V732.9" stroke="#f4f4f4" stroke-width="0.8"/>
<path d="M455.3 594.3V732.9" stroke="#f4f4f4" stroke-width="0.8"/>
<path d="M498.7 594.3V732.9" stroke="#f4f4f4" stroke-width="0.8"/>
<rect x="114.1" y="729.0" width="8.0" height="3.9" fill="#fff" stroke="#0d0d0d" stroke-width="0.8"/>
<rect x="122.1" y="729.0" width="8.0" height="3.9" fill="#b3b3b3" stroke="#0d0d0d" stroke-width="0.8"/>
<rect x="130.1" y="660.8" width="8.0" height="72.1" fill="#fff" stroke="#ff0000" stroke-width="0.8"/>
<rect x="138.1" y="718.3" width="8.0" height="14.6" fill="#ffb3b3" stroke="#ff0000" stroke-width="0.8"/>
<rect x="157.4" y="730.5" width="8.0" height="2.4" fill="#fff" stroke="#0d0d0d" stroke-width="0.8"/>
<rect x="165.4" y="730.5" width="8.0" height="2.4" fill="#b3b3b3" stroke="#0d0d0d" stroke-width="0.8"/>
<rect x="173.4" y="695.9" width="8.0" height="37.0" fill="#fff" stroke="#ff0000" stroke-width="0.8"/>
<rect x="181.4" y="726.6" width="8.0" height="6.3" fill="#ffb3b3" stroke="#ff0000" stroke-width="0.8"/>
<rect x="200.8" y="721.2" width="8.0" height="11.7" fill="#fff" stroke="#0d0d0d" stroke-width="0.8"/>
<rect x="208.8" y="725.6" width="8.0" height="7.3" fill="#b3b3b3" stroke="#0d0d0d" stroke-width="0.8"/>
<rect x="216.8" y="702.4" width="8.0" height="30.5" fill="#fff" stroke="#ff0000" stroke-width="0.8"/>
<rect x="224.8" y="721.6" width="8.0" height="11.3" fill="#ffb3b3" stroke="#ff0000" stroke-width="0.8"/>
<rect x="244.2" y="728.0" width="8.0" height="4.9" fill="#fff" stroke="#0d0d0d" stroke-width="0.8"/>
<rect x="252.2" y="729.2" width="8.0" height="3.7" fill="#b3b3b3" stroke="#0d0d0d" stroke-width="0.8"/>
<rect x="260.1" y="722.0" width="8.0" height="10.9" fill="#fff" stroke="#ff0000" stroke-width="0.8"/>
<rect x="268.1" y="729.6" width="8.0" height="3.3" fill="#ffb3b3" stroke="#ff0000" stroke-width="0.8"/>
<rect x="287.5" y="728.6" width="8.0" height="4.3" fill="#fff" stroke="#0d0d0d" stroke-width="0.8"/>
<rect x="295.5" y="729.0" width="8.0" height="3.9" fill="#b3b3b3" stroke="#0d0d0d" stroke-width="0.8"/>
<rect x="303.5" y="703.8" width="8.0" height="29.1" fill="#fff" stroke="#ff0000" stroke-width="0.8"/>
<rect x="311.5" y="726.2" width="8.0" height="6.7" fill="#ffb3b3" stroke="#ff0000" stroke-width="0.8"/>
<rect x="330.9" y="727.6" width="8.0" height="5.3" fill="#fff" stroke="#0d0d0d" stroke-width="0.8"/>
<rect x="338.9" y="726.6" width="8.0" height="6.3" fill="#b3b3b3" stroke="#0d0d0d" stroke-width="0.8"/>
<rect x="346.9" y="719.7" width="8.0" height="13.2" fill="#fff" stroke="#ff0000" stroke-width="0.8"/>
<rect x="354.9" y="725.0" width="8.0" height="7.9" fill="#ffb3b3" stroke="#ff0000" stroke-width="0.8"/>
<rect x="374.2" y="720.2" width="8.0" height="12.7" fill="#fff" stroke="#0d0d0d" stroke-width="0.8"/>
<rect x="382.2" y="720.6" width="8.0" height="12.3" fill="#b3b3b3" stroke="#0d0d0d" stroke-width="0.8"/>
<rect x="390.2" y="687.4" width="8.0" height="45.5" fill="#fff" stroke="#ff0000" stroke-width="0.8"/>
<rect x="398.2" y="705.4" width="8.0" height="27.5" fill="#ffb3b3" stroke="#ff0000" stroke-width="0.8"/>
<rect x="417.6" y="713.7" width="8.0" height="19.2" fill="#fff" stroke="#0d0d0d" stroke-width="0.8"/>
<rect x="425.6" y="714.7" width="8.0" height="18.2" fill="#b3b3b3" stroke="#0d0d0d" stroke-width="0.8"/>
<rect x="433.6" y="678.5" width="8.0" height="54.4" fill="#fff" stroke="#ff0000" stroke-width="0.8"/>
<rect x="441.6" y="712.3" width="8.0" height="20.6" fill="#ffb3b3" stroke="#ff0000" stroke-width="0.8"/>
<rect x="460.9" y="727.2" width="8.0" height="5.7" fill="#fff" stroke="#0d0d0d" stroke-width="0.8"/>
<rect x="468.9" y="728.6" width="8.0" height="4.3" fill="#b3b3b3" stroke="#0d0d0d" stroke-width="0.8"/>
<rect x="476.9" y="726.6" width="8.0" height="6.3" fill="#fff" stroke="#ff0000" stroke-width="0.8"/>
<rect x="484.9" y="727.2" width="8.0" height="5.7" fill="#ffb3b3" stroke="#ff0000" stroke-width="0.8"/>
<rect x="504.3" y="727.2" width="8.0" height="5.7" fill="#fff" stroke="#0d0d0d" stroke-width="0.8"/>
<rect x="512.2" y="729.2" width="8.0" height="3.7" fill="#b3b3b3" stroke="#0d0d0d" stroke-width="0.8"/>
<rect x="520.2" y="703.4" width="8.0" height="29.5" fill="#fff" stroke="#ff0000" stroke-width="0.8"/>
<rect x="528.2" y="728.0" width="8.0" height="4.9" fill="#ffb3b3" stroke="#ff0000" stroke-width="0.8"/>
<path d="M118.1 726.0V731.0M115.7 726.0H120.5M115.7 731.0H120.5" stroke="#0d0d0d" stroke-width="0.7" fill="none"/>
<circle cx="119.6" cy="723.6" r="2.15" fill="none" stroke="#0d0d0d" stroke-width="0.85"/>
<circle cx="116.1" cy="729.0" r="2.15" fill="none" stroke="#0d0d0d" stroke-width="0.85"/>
<circle cx="118.1" cy="730.0" r="2.15" fill="none" stroke="#0d0d0d" stroke-width="0.85"/>
<circle cx="120.1" cy="728.6" r="2.15" fill="none" stroke="#0d0d0d" stroke-width="0.85"/>
<circle cx="117.1" cy="731.0" r="2.15" fill="none" stroke="#0d0d0d" stroke-width="0.85"/>
<path d="M126.1 727.5V730.5M123.7 727.5H128.5M123.7 730.5H128.5" stroke="#0d0d0d" stroke-width="0.7" fill="none"/>
<circle cx="125.1" cy="729.5" r="2.15" fill="none" stroke="#0d0d0d" stroke-width="0.85"/>
<circle cx="127.1" cy="728.5" r="2.15" fill="none" stroke="#0d0d0d" stroke-width="0.85"/>
<circle cx="128.6" cy="729.0" r="2.15" fill="none" stroke="#0d0d0d" stroke-width="0.85"/>
<path d="M134.1 615.7V704.8M131.7 615.7H136.5M131.7 704.8H136.5" stroke="#ff0000" stroke-width="0.7" fill="none"/>
<circle cx="134.1" cy="613.3" r="2.15" fill="none" stroke="#ff0000" stroke-width="0.85"/>
<circle cx="134.1" cy="668.2" r="2.15" fill="none" stroke="#ff0000" stroke-width="0.85"/>
<circle cx="134.1" cy="700.8" r="2.15" fill="none" stroke="#ff0000" stroke-width="0.85"/>
<path d="M142.1 712.5V725.5M139.7 712.5H144.5M139.7 725.5H144.5" stroke="#ff0000" stroke-width="0.7" fill="none"/>
<circle cx="142.1" cy="709.8" r="2.15" fill="none" stroke="#ff0000" stroke-width="0.85"/>
<circle cx="142.1" cy="716.7" r="2.15" fill="none" stroke="#ff0000" stroke-width="0.85"/>
<circle cx="141.1" cy="721.6" r="2.15" fill="none" stroke="#ff0000" stroke-width="0.85"/>
<circle cx="143.6" cy="723.6" r="2.15" fill="none" stroke="#ff0000" stroke-width="0.85"/>
<path d="M161.4 729.0V731.5M159.0 729.0H163.8M159.0 731.5H163.8" stroke="#0d0d0d" stroke-width="0.7" fill="none"/>
<circle cx="161.4" cy="727.6" r="2.15" fill="none" stroke="#0d0d0d" stroke-width="0.85"/>
<circle cx="159.4" cy="730.5" r="2.15" fill="none" stroke="#0d0d0d" stroke-width="0.85"/>
<circle cx="161.4" cy="731.0" r="2.15" fill="none" stroke="#0d0d0d" stroke-width="0.85"/>
<circle cx="163.4" cy="730.5" r="2.15" fill="none" stroke="#0d0d0d" stroke-width="0.85"/>
<path d="M169.4 729.5V731.5M167.0 729.5H171.8M167.0 731.5H171.8" stroke="#0d0d0d" stroke-width="0.7" fill="none"/>
<circle cx="167.9" cy="730.5" r="2.15" fill="none" stroke="#0d0d0d" stroke-width="0.85"/>
<circle cx="169.9" cy="730.0" r="2.15" fill="none" stroke="#0d0d0d" stroke-width="0.85"/>
<circle cx="171.4" cy="729.5" r="2.15" fill="none" stroke="#0d0d0d" stroke-width="0.85"/>
<path d="M177.4 671.5V720.6M175.0 671.5H179.8M175.0 720.6H179.8" stroke="#ff0000" stroke-width="0.7" fill="none"/>
<circle cx="177.4" cy="668.8" r="2.15" fill="none" stroke="#ff0000" stroke-width="0.85"/>
<circle cx="177.4" cy="706.2" r="2.15" fill="none" stroke="#ff0000" stroke-width="0.85"/>
<circle cx="177.4" cy="714.7" r="2.15" fill="none" stroke="#ff0000" stroke-width="0.85"/>
<path d="M185.4 723.5V729.5M183.0 723.5H187.8M183.0 729.5H187.8" stroke="#ff0000" stroke-width="0.7" fill="none"/>
<circle cx="185.4" cy="722.6" r="2.15" fill="none" stroke="#ff0000" stroke-width="0.85"/>
<circle cx="186.4" cy="726.6" r="2.15" fill="none" stroke="#ff0000" stroke-width="0.85"/>
<circle cx="184.4" cy="728.6" r="2.15" fill="none" stroke="#ff0000" stroke-width="0.85"/>
<circle cx="187.4" cy="729.5" r="2.15" fill="none" stroke="#ff0000" stroke-width="0.85"/>
<path d="M204.8 708.2V731.0M202.4 708.2H207.2M202.4 731.0H207.2" stroke="#0d0d0d" stroke-width="0.7" fill="none"/>
<circle cx="204.8" cy="698.9" r="2.15" fill="none" stroke="#0d0d0d" stroke-width="0.85"/>
<circle cx="203.8" cy="724.6" r="2.15" fill="none" stroke="#0d0d0d" stroke-width="0.85"/>
<circle cx="205.8" cy="724.6" r="2.15" fill="none" stroke="#0d0d0d" stroke-width="0.85"/>
<circle cx="203.8" cy="727.6" r="2.15" fill="none" stroke="#0d0d0d" stroke-width="0.85"/>
<circle cx="205.8" cy="728.0" r="2.15" fill="none" stroke="#0d0d0d" stroke-width="0.85"/>
<path d="M212.8 724.5V727.0M210.4 724.5H215.2M210.4 727.0H215.2" stroke="#0d0d0d" stroke-width="0.7" fill="none"/>
<circle cx="211.3" cy="726.6" r="2.15" fill="none" stroke="#0d0d0d" stroke-width="0.85"/>
<circle cx="213.3" cy="726.0" r="2.15" fill="none" stroke="#0d0d0d" stroke-width="0.85"/>
<circle cx="215.3" cy="726.6" r="2.15" fill="none" stroke="#0d0d0d" stroke-width="0.85"/>
<path d="M220.8 690.9V714.7M218.4 690.9H223.2M218.4 714.7H223.2" stroke="#ff0000" stroke-width="0.7" fill="none"/>
<circle cx="220.8" cy="690.0" r="2.15" fill="none" stroke="#ff0000" stroke-width="0.85"/>
<circle cx="220.8" cy="707.8" r="2.15" fill="none" stroke="#ff0000" stroke-width="0.85"/>
<circle cx="220.8" cy="711.7" r="2.15" fill="none" stroke="#ff0000" stroke-width="0.85"/>
<path d="M228.8 718.5V724.5M226.4 718.5H231.2M226.4 724.5H231.2" stroke="#ff0000" stroke-width="0.7" fill="none"/>
<circle cx="228.8" cy="719.3" r="2.15" fill="none" stroke="#ff0000" stroke-width="0.85"/>
<circle cx="226.8" cy="722.0" r="2.15" fill="none" stroke="#ff0000" stroke-width="0.85"/>
<circle cx="230.8" cy="722.5" r="2.15" fill="none" stroke="#ff0000" stroke-width="0.85"/>
<circle cx="228.8" cy="724.0" r="2.15" fill="none" stroke="#ff0000" stroke-width="0.85"/>
<path d="M248.2 723.2V731.5M245.8 723.2H250.6M245.8 731.5H250.6" stroke="#0d0d0d" stroke-width="0.7" fill="none"/>
<circle cx="246.7" cy="719.7" r="2.15" fill="none" stroke="#0d0d0d" stroke-width="0.85"/>
<circle cx="246.2" cy="730.0" r="2.15" fill="none" stroke="#0d0d0d" stroke-width="0.85"/>
<circle cx="248.2" cy="729.6" r="2.15" fill="none" stroke="#0d0d0d" stroke-width="0.85"/>
<circle cx="250.2" cy="730.0" r="2.15" fill="none" stroke="#0d0d0d" stroke-width="0.85"/>
<path d="M256.1 728.5V730.0M253.7 728.5H258.5M253.7 730.0H258.5" stroke="#0d0d0d" stroke-width="0.7" fill="none"/>
<circle cx="254.6" cy="730.0" r="2.15" fill="none" stroke="#0d0d0d" stroke-width="0.85"/>
<circle cx="256.6" cy="729.5" r="2.15" fill="none" stroke="#0d0d0d" stroke-width="0.85"/>
<circle cx="258.6" cy="730.0" r="2.15" fill="none" stroke="#0d0d0d" stroke-width="0.85"/>
<path d="M264.1 716.7V727.6M261.8 716.7H266.5M261.8 727.6H266.5" stroke="#ff0000" stroke-width="0.7" fill="none"/>
<circle cx="264.1" cy="715.1" r="2.15" fill="none" stroke="#ff0000" stroke-width="0.85"/>
<circle cx="264.1" cy="724.6" r="2.15" fill="none" stroke="#ff0000" stroke-width="0.85"/>
<circle cx="264.1" cy="726.6" r="2.15" fill="none" stroke="#ff0000" stroke-width="0.85"/>
<path d="M272.1 729.0V730.5M269.8 729.0H274.5M269.8 730.5H274.5" stroke="#ff0000" stroke-width="0.7" fill="none"/>
<circle cx="269.6" cy="730.0" r="2.15" fill="none" stroke="#ff0000" stroke-width="0.85"/>
<circle cx="272.1" cy="729.6" r="2.15" fill="none" stroke="#ff0000" stroke-width="0.85"/>
<circle cx="274.6" cy="729.0" r="2.15" fill="none" stroke="#ff0000" stroke-width="0.85"/>
<path d="M291.5 725.0V731.0M289.1 725.0H293.9M289.1 731.0H293.9" stroke="#0d0d0d" stroke-width="0.7" fill="none"/>
<circle cx="291.5" cy="722.2" r="2.15" fill="none" stroke="#0d0d0d" stroke-width="0.85"/>
<circle cx="289.5" cy="730.0" r="2.15" fill="none" stroke="#0d0d0d" stroke-width="0.85"/>
<circle cx="291.5" cy="730.5" r="2.15" fill="none" stroke="#0d0d0d" stroke-width="0.85"/>
<circle cx="293.5" cy="729.6" r="2.15" fill="none" stroke="#0d0d0d" stroke-width="0.85"/>
<path d="M299.5 728.0V730.0M297.1 728.0H301.9M297.1 730.0H301.9" stroke="#0d0d0d" stroke-width="0.7" fill="none"/>
<circle cx="298.0" cy="729.5" r="2.15" fill="none" stroke="#0d0d0d" stroke-width="0.85"/>
<circle cx="300.0" cy="729.0" r="2.15" fill="none" stroke="#0d0d0d" stroke-width="0.85"/>
<circle cx="302.0" cy="728.0" r="2.15" fill="none" stroke="#0d0d0d" stroke-width="0.85"/>
<path d="M307.5 686.0V721.6M305.1 686.0H309.9M305.1 721.6H309.9" stroke="#ff0000" stroke-width="0.7" fill="none"/>
<circle cx="307.5" cy="684.6" r="2.15" fill="none" stroke="#ff0000" stroke-width="0.85"/>
<circle cx="307.5" cy="706.8" r="2.15" fill="none" stroke="#ff0000" stroke-width="0.85"/>
<circle cx="307.5" cy="720.0" r="2.15" fill="none" stroke="#ff0000" stroke-width="0.85"/>
<path d="M315.5 725.0V727.5M313.1 725.0H317.9M313.1 727.5H317.9" stroke="#ff0000" stroke-width="0.7" fill="none"/>
<circle cx="313.5" cy="726.0" r="2.15" fill="none" stroke="#ff0000" stroke-width="0.85"/>
<circle cx="315.5" cy="726.5" r="2.15" fill="none" stroke="#ff0000" stroke-width="0.85"/>
<circle cx="317.5" cy="726.2" r="2.15" fill="none" stroke="#ff0000" stroke-width="0.85"/>
<circle cx="319.0" cy="726.0" r="2.15" fill="none" stroke="#ff0000" stroke-width="0.85"/>
<path d="M334.9 721.6V731.0M332.5 721.6H337.2M332.5 731.0H337.2" stroke="#0d0d0d" stroke-width="0.7" fill="none"/>
<circle cx="335.4" cy="717.1" r="2.15" fill="none" stroke="#0d0d0d" stroke-width="0.85"/>
<circle cx="332.9" cy="729.0" r="2.15" fill="none" stroke="#0d0d0d" stroke-width="0.85"/>
<circle cx="334.9" cy="730.0" r="2.15" fill="none" stroke="#0d0d0d" stroke-width="0.85"/>
<circle cx="336.9" cy="728.5" r="2.15" fill="none" stroke="#0d0d0d" stroke-width="0.85"/>
<path d="M342.9 725.5V728.0M340.5 725.5H345.2M340.5 728.0H345.2" stroke="#0d0d0d" stroke-width="0.7" fill="none"/>
<circle cx="341.4" cy="728.0" r="2.15" fill="none" stroke="#0d0d0d" stroke-width="0.85"/>
<circle cx="343.4" cy="727.5" r="2.15" fill="none" stroke="#0d0d0d" stroke-width="0.85"/>
<circle cx="345.4" cy="726.6" r="2.15" fill="none" stroke="#0d0d0d" stroke-width="0.85"/>
<path d="M350.9 715.7V723.6M348.5 715.7H353.2M348.5 723.6H353.2" stroke="#ff0000" stroke-width="0.7" fill="none"/>
<circle cx="349.4" cy="715.1" r="2.15" fill="none" stroke="#ff0000" stroke-width="0.85"/>
<circle cx="353.4" cy="715.1" r="2.15" fill="none" stroke="#ff0000" stroke-width="0.85"/>
<circle cx="350.9" cy="726.2" r="2.15" fill="none" stroke="#ff0000" stroke-width="0.85"/>
<path d="M358.9 721.0V729.0M356.5 721.0H361.2M356.5 729.0H361.2" stroke="#ff0000" stroke-width="0.7" fill="none"/>
<circle cx="358.9" cy="719.7" r="2.15" fill="none" stroke="#ff0000" stroke-width="0.85"/>
<circle cx="357.9" cy="724.6" r="2.15" fill="none" stroke="#ff0000" stroke-width="0.85"/>
<circle cx="360.9" cy="726.2" r="2.15" fill="none" stroke="#ff0000" stroke-width="0.85"/>
<circle cx="358.9" cy="728.0" r="2.15" fill="none" stroke="#ff0000" stroke-width="0.85"/>
<path d="M378.2 715.7V725.0M375.8 715.7H380.6M375.8 725.0H380.6" stroke="#0d0d0d" stroke-width="0.7" fill="none"/>
<circle cx="377.7" cy="711.1" r="2.15" fill="none" stroke="#0d0d0d" stroke-width="0.85"/>
<circle cx="377.2" cy="719.7" r="2.15" fill="none" stroke="#0d0d0d" stroke-width="0.85"/>
<circle cx="379.2" cy="720.5" r="2.15" fill="none" stroke="#0d0d0d" stroke-width="0.85"/>
<circle cx="378.2" cy="723.5" r="2.15" fill="none" stroke="#0d0d0d" stroke-width="0.85"/>
<circle cx="378.2" cy="726.2" r="2.15" fill="none" stroke="#0d0d0d" stroke-width="0.85"/>
<path d="M386.2 716.5V724.5M383.8 716.5H388.6M383.8 724.5H388.6" stroke="#0d0d0d" stroke-width="0.7" fill="none"/>
<circle cx="386.2" cy="716.7" r="2.15" fill="none" stroke="#0d0d0d" stroke-width="0.85"/>
<circle cx="386.2" cy="720.6" r="2.15" fill="none" stroke="#0d0d0d" stroke-width="0.85"/>
<circle cx="386.2" cy="723.6" r="2.15" fill="none" stroke="#0d0d0d" stroke-width="0.85"/>
<path d="M394.2 676.1V699.5M391.8 676.1H396.6M391.8 699.5H396.6" stroke="#ff0000" stroke-width="0.7" fill="none"/>
<circle cx="394.2" cy="677.5" r="2.15" fill="none" stroke="#ff0000" stroke-width="0.85"/>
<circle cx="394.2" cy="683.4" r="2.15" fill="none" stroke="#ff0000" stroke-width="0.85"/>
<circle cx="394.2" cy="699.9" r="2.15" fill="none" stroke="#ff0000" stroke-width="0.85"/>
<path d="M402.2 700.8V709.8M399.8 700.8H404.6M399.8 709.8H404.6" stroke="#ff0000" stroke-width="0.7" fill="none"/>
<circle cx="402.2" cy="698.3" r="2.15" fill="none" stroke="#ff0000" stroke-width="0.85"/>
<circle cx="402.2" cy="703.8" r="2.15" fill="none" stroke="#ff0000" stroke-width="0.85"/>
<circle cx="401.2" cy="707.4" r="2.15" fill="none" stroke="#ff0000" stroke-width="0.85"/>
<circle cx="403.7" cy="708.8" r="2.15" fill="none" stroke="#ff0000" stroke-width="0.85"/>
<path d="M421.6 701.4V726.0M419.2 701.4H423.9M419.2 726.0H423.9" stroke="#0d0d0d" stroke-width="0.7" fill="none"/>
<circle cx="421.6" cy="692.5" r="2.15" fill="none" stroke="#0d0d0d" stroke-width="0.85"/>
<circle cx="420.6" cy="714.7" r="2.15" fill="none" stroke="#0d0d0d" stroke-width="0.85"/>
<circle cx="422.6" cy="718.1" r="2.15" fill="none" stroke="#0d0d0d" stroke-width="0.85"/>
<circle cx="421.6" cy="722.6" r="2.15" fill="none" stroke="#0d0d0d" stroke-width="0.85"/>
<path d="M429.6 713.0V717.0M427.2 713.0H431.9M427.2 717.0H431.9" stroke="#0d0d0d" stroke-width="0.7" fill="none"/>
<circle cx="428.6" cy="714.7" r="2.15" fill="none" stroke="#0d0d0d" stroke-width="0.85"/>
<circle cx="430.6" cy="715.5" r="2.15" fill="none" stroke="#0d0d0d" stroke-width="0.85"/>
<circle cx="429.6" cy="718.7" r="2.15" fill="none" stroke="#0d0d0d" stroke-width="0.85"/>
<path d="M437.6 651.3V704.8M435.2 651.3H439.9M435.2 704.8H439.9" stroke="#ff0000" stroke-width="0.7" fill="none"/>
<circle cx="437.6" cy="648.4" r="2.15" fill="none" stroke="#ff0000" stroke-width="0.85"/>
<circle cx="437.6" cy="688.6" r="2.15" fill="none" stroke="#ff0000" stroke-width="0.85"/>
<circle cx="437.6" cy="698.9" r="2.15" fill="none" stroke="#ff0000" stroke-width="0.85"/>
<path d="M445.6 706.0V718.5M443.2 706.0H447.9M443.2 718.5H447.9" stroke="#ff0000" stroke-width="0.7" fill="none"/>
<circle cx="445.6" cy="706.2" r="2.15" fill="none" stroke="#ff0000" stroke-width="0.85"/>
<circle cx="445.6" cy="709.8" r="2.15" fill="none" stroke="#ff0000" stroke-width="0.85"/>
<circle cx="445.6" cy="715.7" r="2.15" fill="none" stroke="#ff0000" stroke-width="0.85"/>
<circle cx="445.6" cy="719.7" r="2.15" fill="none" stroke="#ff0000" stroke-width="0.85"/>
<path d="M464.9 726.0V728.5M462.5 726.0H467.3M462.5 728.5H467.3" stroke="#0d0d0d" stroke-width="0.7" fill="none"/>
<circle cx="462.9" cy="726.2" r="2.15" fill="none" stroke="#0d0d0d" stroke-width="0.85"/>
<circle cx="464.9" cy="727.5" r="2.15" fill="none" stroke="#0d0d0d" stroke-width="0.85"/>
<circle cx="466.9" cy="728.0" r="2.15" fill="none" stroke="#0d0d0d" stroke-width="0.85"/>
<circle cx="464.9" cy="730.5" r="2.15" fill="none" stroke="#0d0d0d" stroke-width="0.85"/>
<circle cx="463.9" cy="729.0" r="2.15" fill="none" stroke="#0d0d0d" stroke-width="0.85"/>
<path d="M472.9 728.0V729.5M470.5 728.0H475.3M470.5 729.5H475.3" stroke="#0d0d0d" stroke-width="0.7" fill="none"/>
<circle cx="471.4" cy="729.0" r="2.15" fill="none" stroke="#0d0d0d" stroke-width="0.85"/>
<circle cx="473.4" cy="728.5" r="2.15" fill="none" stroke="#0d0d0d" stroke-width="0.85"/>
<circle cx="475.4" cy="729.0" r="2.15" fill="none" stroke="#0d0d0d" stroke-width="0.85"/>
<path d="M480.9 725.5V727.5M478.5 725.5H483.3M478.5 727.5H483.3" stroke="#ff0000" stroke-width="0.7" fill="none"/>
<circle cx="479.9" cy="725.6" r="2.15" fill="none" stroke="#ff0000" stroke-width="0.85"/>
<circle cx="481.9" cy="726.5" r="2.15" fill="none" stroke="#ff0000" stroke-width="0.85"/>
<circle cx="480.9" cy="728.0" r="2.15" fill="none" stroke="#ff0000" stroke-width="0.85"/>
<path d="M488.9 726.5V728.0M486.5 726.5H491.3M486.5 728.0H491.3" stroke="#ff0000" stroke-width="0.7" fill="none"/>
<circle cx="486.4" cy="727.0" r="2.15" fill="none" stroke="#ff0000" stroke-width="0.85"/>
<circle cx="488.9" cy="727.5" r="2.15" fill="none" stroke="#ff0000" stroke-width="0.85"/>
<circle cx="490.9" cy="727.0" r="2.15" fill="none" stroke="#ff0000" stroke-width="0.85"/>
<circle cx="492.4" cy="727.5" r="2.15" fill="none" stroke="#ff0000" stroke-width="0.85"/>
<path d="M508.3 725.0V730.0M505.9 725.0H510.7M505.9 730.0H510.7" stroke="#0d0d0d" stroke-width="0.7" fill="none"/>
<circle cx="507.3" cy="726.0" r="2.15" fill="none" stroke="#0d0d0d" stroke-width="0.85"/>
<circle cx="509.3" cy="727.0" r="2.15" fill="none" stroke="#0d0d0d" stroke-width="0.85"/>
<circle cx="508.3" cy="728.5" r="2.15" fill="none" stroke="#0d0d0d" stroke-width="0.85"/>
<circle cx="506.3" cy="729.5" r="2.15" fill="none" stroke="#0d0d0d" stroke-width="0.85"/>
<circle cx="510.3" cy="730.0" r="2.15" fill="none" stroke="#0d0d0d" stroke-width="0.85"/>
<path d="M516.2 728.5V730.0M513.9 728.5H518.6M513.9 730.0H518.6" stroke="#0d0d0d" stroke-width="0.7" fill="none"/>
<circle cx="514.8" cy="729.5" r="2.15" fill="none" stroke="#0d0d0d" stroke-width="0.85"/>
<circle cx="516.8" cy="729.0" r="2.15" fill="none" stroke="#0d0d0d" stroke-width="0.85"/>
<circle cx="518.8" cy="729.5" r="2.15" fill="none" stroke="#0d0d0d" stroke-width="0.85"/>
<path d="M524.2 686.0V720.6M521.9 686.0H526.6M521.9 720.6H526.6" stroke="#ff0000" stroke-width="0.7" fill="none"/>
<circle cx="524.2" cy="684.6" r="2.15" fill="none" stroke="#ff0000" stroke-width="0.85"/>
<circle cx="524.2" cy="707.8" r="2.15" fill="none" stroke="#ff0000" stroke-width="0.85"/>
<circle cx="524.2" cy="718.1" r="2.15" fill="none" stroke="#ff0000" stroke-width="0.85"/>
<path d="M532.2 724.5V731.5M529.9 724.5H534.6M529.9 731.5H534.6" stroke="#ff0000" stroke-width="0.7" fill="none"/>
<circle cx="532.2" cy="722.0" r="2.15" fill="none" stroke="#ff0000" stroke-width="0.85"/>
<circle cx="531.2" cy="728.6" r="2.15" fill="none" stroke="#ff0000" stroke-width="0.85"/>
<circle cx="533.8" cy="730.1" r="2.15" fill="none" stroke="#ff0000" stroke-width="0.85"/>
<circle cx="532.2" cy="731.5" r="2.15" fill="none" stroke="#ff0000" stroke-width="0.85"/>
<rect x="108.5" y="594.3" width="433.5" height="138.6" fill="none" stroke="#222" stroke-width="0.9"/>
<text x="100.4" y="736.4" font-size="9.8" text-anchor="end" fill="#0d0d0d" stroke="#0d0d0d">0</text>
<text x="100.4" y="716.6" font-size="9.8" text-anchor="end" fill="#0d0d0d" stroke="#0d0d0d">0.1</text>
<text x="100.4" y="696.8" font-size="9.8" text-anchor="end" fill="#0d0d0d" stroke="#0d0d0d">0.2</text>
<text x="100.4" y="677.0" font-size="9.8" text-anchor="end" fill="#0d0d0d" stroke="#0d0d0d">0.3</text>
<text x="100.4" y="657.2" font-size="9.8" text-anchor="end" fill="#0d0d0d" stroke="#0d0d0d">0.4</text>
<text x="100.4" y="637.4" font-size="9.8" text-anchor="end" fill="#0d0d0d" stroke="#0d0d0d">0.5</text>
<text x="100.4" y="617.6" font-size="9.8" text-anchor="end" fill="#0d0d0d" stroke="#0d0d0d">0.6</text>
<text x="100.4" y="597.8" font-size="9.8" text-anchor="end" fill="#0d0d0d" stroke="#0d0d0d">0.7</text>
<text transform="translate(78.0 659.7) rotate(-90)" font-size="11" text-anchor="middle" fill="#0d0d0d" stroke="#0d0d0d">Cell number (x10<tspan dy="-4.0" font-size="7.5">7</tspan><tspan dy="4.0" font-size="11">&#8203;</tspan>/lt lobe)</text>
<text x="147.1" y="607.9" font-size="9.8" text-anchor="start" fill="#0d0d0d" stroke="#0d0d0d">p=0.045</text>
<path d="M132.9 609.2V603.2H142.6V696.9" stroke="#222" stroke-width="0.85" fill="none"/>
<text x="175.4" y="657.4" font-size="9.8" text-anchor="start" fill="#0d0d0d" stroke="#0d0d0d">p=0.049</text>
<path d="M176.4 663.2V659.9H186.1V715.1" stroke="#222" stroke-width="0.85" fill="none"/>
<text x="203.9" y="680.1" font-size="9.8" text-anchor="start" fill="#0d0d0d" stroke="#0d0d0d">p=0.023</text>
<path d="M219.3 683.4V681.6H228.6V711.1" stroke="#222" stroke-width="0.85" fill="none"/>
<text x="246.0" y="702.5" font-size="9.8" text-anchor="start" fill="#0d0d0d" stroke="#0d0d0d">p=0.042</text>
<path d="M262.9 704.8H272.6V716.7" stroke="#222" stroke-width="0.85" fill="none"/>
<text x="305.4" y="669.3" font-size="9.8" text-anchor="start" fill="#0d0d0d" stroke="#0d0d0d">p=0.048</text>
<path d="M306.8 676.1V672.7H316.1V719.7" stroke="#222" stroke-width="0.85" fill="none"/>
<text x="376.8" y="668.3" font-size="9.8" text-anchor="start" fill="#0d0d0d" stroke="#0d0d0d">p=0.042</text>
<path d="M393.3 672.5V670.7H402.6V690" stroke="#222" stroke-width="0.85" fill="none"/>
<text x="425.0" y="634.6" font-size="9.8" text-anchor="start" fill="#0d0d0d" stroke="#0d0d0d">p=0.051</text>
<path d="M436.4 641V638.5H446.1V685.4" stroke="#222" stroke-width="0.85" fill="none"/>
<text x="500.4" y="674.2" font-size="9.8" text-anchor="start" fill="#0d0d0d" stroke="#0d0d0d">p=0.039</text>
<path d="M523.6 680V677.7H532.5V709.8" stroke="#222" stroke-width="0.85" fill="none"/>
<path d="M281.5 442.5V787" stroke="#222" stroke-width="0.9" stroke-dasharray="3.2 2.4" fill="none"/>
<path d="M411.7 442.5V787" stroke="#222" stroke-width="0.9" stroke-dasharray="3.2 2.4" fill="none"/>
<text x="132.9" y="747.2" font-size="9.8" text-anchor="middle" fill="#0d0d0d" stroke="#0d0d0d">CD11c</text>
<text x="175.6" y="747.2" font-size="9.8" text-anchor="middle" fill="#0d0d0d" stroke="#0d0d0d">CD11c+</text>
<text x="175.6" y="759.3" font-size="9.8" text-anchor="middle" fill="#0d0d0d" stroke="#0d0d0d">F4/80+</text>
<text x="216.3" y="747.2" font-size="9.8" text-anchor="middle" fill="#0d0d0d" stroke="#0d0d0d">CD11b+</text>
<text x="216.3" y="759.3" font-size="9.8" text-anchor="middle" fill="#0d0d0d" stroke="#0d0d0d">F4/80+</text>
<text x="260.0" y="747.2" font-size="9.8" text-anchor="middle" fill="#0d0d0d" stroke="#0d0d0d">CD11b+</text>
<text x="260.0" y="759.3" font-size="9.8" text-anchor="middle" fill="#0d0d0d" stroke="#0d0d0d">Gr1+</text>
<text x="303.6" y="747.2" font-size="9.8" text-anchor="middle" fill="#0d0d0d" stroke="#0d0d0d">CD4</text>
<text x="348.8" y="747.2" font-size="9.8" text-anchor="middle" fill="#0d0d0d" stroke="#0d0d0d">CD8a</text>
<text x="390.3" y="747.2" font-size="9.8" text-anchor="middle" fill="#0d0d0d" stroke="#0d0d0d">B220</text>
<text x="434.7" y="747.2" font-size="9.8" text-anchor="middle" fill="#0d0d0d" stroke="#0d0d0d">CD31+</text>
<text x="434.7" y="759.3" font-size="9.8" text-anchor="middle" fill="#0d0d0d" stroke="#0d0d0d">Sca1+</text>
<text x="477.8" y="747.2" font-size="9.8" text-anchor="middle" fill="#0d0d0d" stroke="#0d0d0d">CD31-</text>
<text x="477.8" y="759.3" font-size="9.8" text-anchor="middle" fill="#0d0d0d" stroke="#0d0d0d">Sca1+</text>
<text x="520.7" y="747.2" font-size="9.8" text-anchor="middle" fill="#0d0d0d" stroke="#0d0d0d">SPC</text>
<path d="M111.4 764.8H277.3M286.4 764.8H406.9M415.3 764.8H535.7" stroke="#000" stroke-width="2.2"/>
<text x="194.7" y="779.4" font-size="9.8" text-anchor="middle" fill="#0d0d0d" stroke="#0d0d0d">CD45+ (myeloid)</text>
<text x="351.2" y="779.4" font-size="9.8" text-anchor="middle" fill="#0d0d0d" stroke="#0d0d0d">CD45+ (lymphoid)</text>
<text x="479.4" y="779.4" font-size="9.8" text-anchor="middle" fill="#0d0d0d" stroke="#0d0d0d">CD45- (non-hematopoietic)</text>
<rect x="544.6" y="682.0" width="12.2" height="6.8" fill="#fff" stroke="#0d0d0d" stroke-width="0.8"/>
<text x="561.6" y="689.5" font-size="11" fill="#0d0d0d" stroke="#0d0d0d">KRAS<tspan dy="-4.0" font-size="7.5">WT</tspan><tspan dy="4.0" font-size="11">&#8203;</tspan>/vehicle</text>
<rect x="544.6" y="695.1" width="12.2" height="6.8" fill="#b3b3b3" stroke="#0d0d0d" stroke-width="0.8"/>
<text x="561.6" y="702.6" font-size="11" fill="#0d0d0d" stroke="#0d0d0d">KRAS<tspan dy="-4.0" font-size="7.5">WT</tspan><tspan dy="4.0" font-size="11">&#8203;</tspan>/statin</text>
<rect x="544.6" y="708.3" width="12.2" height="6.8" fill="#fff" stroke="#ff0000" stroke-width="0.8"/>
<text x="561.6" y="715.8" font-size="11" fill="#ff0000" stroke="#ff0000">KRAS<tspan dy="-4.0" font-size="7.5">G12D</tspan><tspan dy="4.0" font-size="11">&#8203;</tspan>/vehicle</text>
<rect x="544.6" y="721.4" width="12.2" height="6.8" fill="#ffb3b3" stroke="#ff0000" stroke-width="0.8"/>
<text x="561.6" y="728.9" font-size="11" fill="#ff0000" stroke="#ff0000">KRAS<tspan dy="-4.0" font-size="7.5">G12D</tspan><tspan dy="4.0" font-size="11">&#8203;</tspan>/statin</text>
</g>
</svg>
<div class="cap" id="cap0" style="top:798.3px;letter-spacing:0.1012px"><b>Fig. 3. Short-term atorvastatin treatment.</b> (A) Schematic of 2-month atorvastatin treatment of Ad5-mSPC-Cre-induced KRAS<sup>G12D</sup> mice. (B) Lung weight of</div>
<div class="cap" id="cap1" style="top:810.3px;letter-spacing:0.1043px">vehicle/atorvastatin-treated KRAS<sup>G12D</sup> tumour mice [<i>n</i>=5 for KRAS<sup>WT</sup> vehicle groups, <i>n</i>=3 for KRAS<sup>WT</sup> statin and KRAS<sup>G12D</sup> vehicle groups, <i>n</i>=4 for KRAS<sup>G12D</sup></div>
<div class="cap" id="cap2" style="top:823.1px;letter-spacing:-0.0224px">statin group, <i>P</i>-value by unpaired Student&#8217;s <i>t</i>-test (two-tailed)]. KRAS<sup>WT</sup> mice serve as negative controls. (C) H&amp;E staining. The boxed areas in the top images are</div>
<div class="cap" id="cap3" style="top:836.2px;letter-spacing:0.1680px">enlarged in the bottom images. Scale bars: 500 &#181;m (top row), 125 &#181;m (bottom row). The boxplot on the right shows tumour numbers per right lobe for each</div>
<div class="cap" id="cap4" style="top:848.3px;letter-spacing:0.1290px">treatment group [<i>n</i>=3 for vehicle control, <i>n</i>=4 for statin treatment, <i>P</i>-value by unpaired Student&#8217;s <i>t</i>-test (two-tailed)]. (D) Flow cytometry analysis of myeloid</div>
<div class="cap" id="cap5" style="top:860.9px;letter-spacing:0.1827px">(CD11c<sup>+</sup>, CD11c<sup>+</sup>F4/80<sup>+</sup>, CD11b<sup>+</sup>F4/80<sup>+</sup>, CD11b<sup>+</sup>Gr1<sup>+</sup>), lymphoid (CD4<sup>+</sup>, CD8a<sup>+</sup>, B220<sup>+</sup>) and non-hematopoietic (CD31<sup>+</sup>Sca1<sup>+</sup>, CD31-Sca1<sup>+</sup>, SPC<sup>+</sup>)</div>
<div class="cap" id="cap6" style="top:873.0px;letter-spacing:0.0036px">populations in vehicle/atorvastatin-treated KRAS<sup>WT</sup>/KRAS<sup>G12D</sup> lungs (<i>n</i>=3-4). Cell percentages (top) and cell numbers per left lobe (bottom) are indicated [<i>n</i>=5 for</div>
<div class="cap" id="cap7" style="top:886.2px;letter-spacing:0.1704px">KRAS<sup>WT</sup> vehicle groups, <i>n</i>=3 for KRAS<sup>WT</sup> statin and KRAS<sup>G12D</sup> vehicle groups, <i>n</i>=4 for KRAS<sup>G12D</sup> statin group, <i>P</i>-values by unpaired Student&#8217;s <i>t</i>-test (two-</div>
<div class="cap" id="cap8" style="top:899.3px;letter-spacing:0.0949px">tailed)]. Data in B and D represent mean&#177;s.d.</div>
</body></html>
